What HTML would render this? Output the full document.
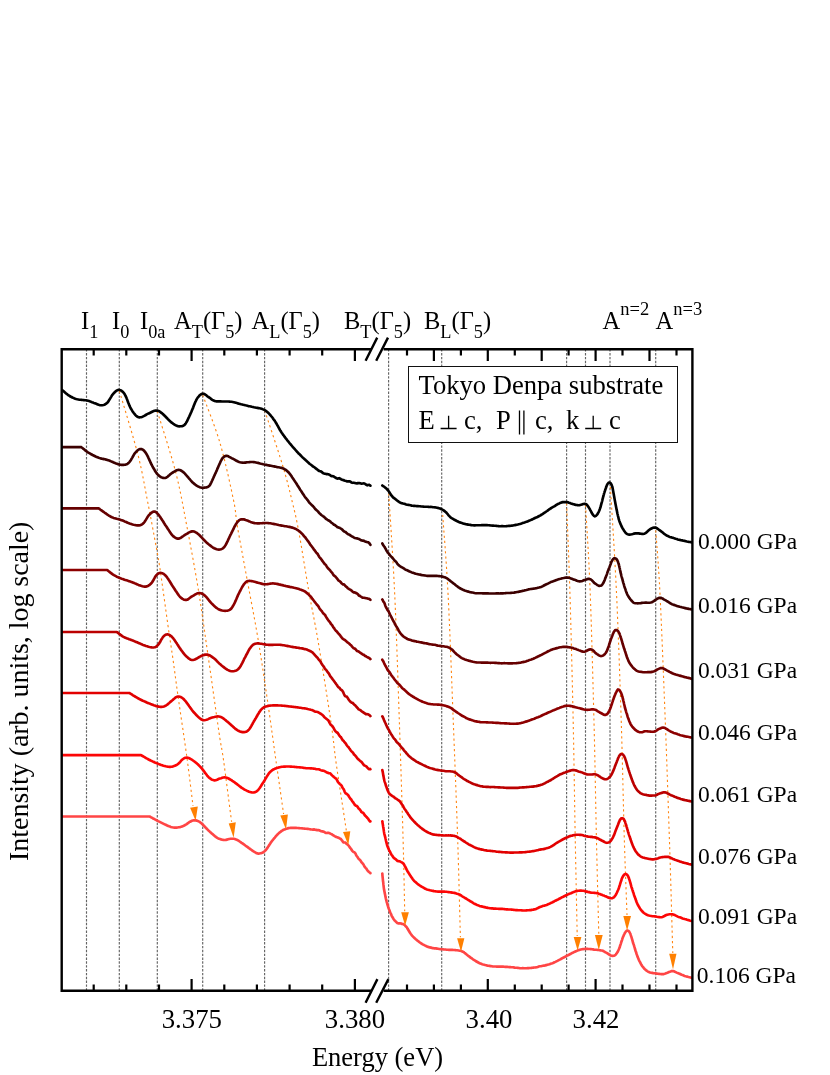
<!DOCTYPE html>
<html><head><meta charset="utf-8"><title>chart</title>
<style>
html,body{margin:0;padding:0;background:#fff;}
body{width:830px;height:1075px;overflow:hidden;}
svg{display:block;will-change:transform;}
text{font-family:"Liberation Serif",serif;fill:#000;}
</style></head><body>
<svg width="830" height="1075" viewBox="0 0 830 1075">
<rect width="830" height="1075" fill="#fff"/>
<g stroke="#646464" stroke-width="1.15" stroke-dasharray="2.4 1.45" fill="none">
<line x1="86.5" y1="349.2" x2="86.5" y2="990.7"/>
<line x1="119.3" y1="349.2" x2="119.3" y2="990.7"/>
<line x1="157.3" y1="349.2" x2="157.3" y2="990.7"/>
<line x1="202.7" y1="349.2" x2="202.7" y2="990.7"/>
<line x1="264.6" y1="349.2" x2="264.6" y2="990.7"/>
<line x1="388.6" y1="349.2" x2="388.6" y2="990.7"/>
<line x1="441.7" y1="349.2" x2="441.7" y2="990.7"/>
<line x1="566.6" y1="349.2" x2="566.6" y2="990.7"/>
<line x1="585.5" y1="349.2" x2="585.5" y2="990.7"/>
<line x1="610" y1="349.2" x2="610" y2="990.7"/>
<line x1="655.7" y1="349.2" x2="655.7" y2="990.7"/>
</g>
<g stroke="#ff8512" stroke-width="1.1" stroke-dasharray="2.2 3.0" fill="none">
<path d="M119.4,391.0C122.5,401.7 133.3,436.5 138.0,455.0C142.7,473.5 144.6,486.5 147.7,502.0C150.8,517.5 154.2,536.2 156.4,548.0C158.6,559.8 158.7,560.2 160.6,573.0C162.5,585.8 165.9,610.8 167.9,625.0C169.9,639.2 171.1,646.2 172.8,658.0C174.5,669.8 175.7,679.6 178.0,696.0C180.3,712.4 184.3,738.3 186.8,756.6C189.3,774.9 192.0,797.8 193.0,806.0"/>
<path d="M157.3,411.4C160.4,421.5 170.7,452.8 175.7,472.2C180.7,491.6 183.3,507.9 187.2,528.0C191.0,548.0 195.3,570.8 198.8,592.5C202.3,614.2 205.0,634.7 208.4,658.0C211.8,681.3 216.5,715.5 219.0,732.5C221.5,749.5 221.4,745.1 223.5,760.0C225.6,774.9 230.2,811.4 231.6,821.7"/>
<path d="M202.7,395.0C205.6,403.0 214.9,425.5 220.0,443.0C225.1,460.5 230.6,486.2 233.5,500.0C236.4,513.8 235.1,512.8 237.3,526.0C239.6,539.2 243.5,560.0 247.0,579.0C250.5,598.0 254.7,618.9 258.2,640.0C261.7,661.1 265.2,685.0 268.2,705.5C271.2,726.0 273.7,744.9 276.3,763.0C278.9,781.1 282.4,805.5 283.6,814.0"/>
<path d="M264.7,410.5C267.7,419.6 277.9,449.8 282.5,465.0C287.1,480.2 289.6,490.7 292.3,502.0C295.1,513.3 296.3,518.0 299.0,532.8C301.7,547.6 305.6,572.7 308.7,590.6C311.8,608.5 314.2,618.3 317.9,640.0C321.6,661.7 327.8,701.0 330.8,721.0C333.8,741.0 333.9,747.2 335.7,760.0C337.5,772.8 339.6,786.3 341.4,798.0C343.2,809.7 345.5,825.0 346.3,830.4"/>
<path d="M388.7,493.7C389.7,509.8 392.7,552.3 394.5,590.0C396.3,627.7 397.9,678.3 399.3,720.0C400.7,761.7 402.2,808.1 403.1,840.0C404.0,871.9 404.4,899.4 404.7,911.3"/>
<path d="M442.7,515.0C443.6,528.0 446.2,558.5 448.0,593.0C449.8,627.5 451.7,680.8 453.3,722.0C454.9,763.2 456.5,804.1 457.7,840.0C458.9,875.9 459.9,921.1 460.4,937.3"/>
<path d="M566.6,503.4C567.1,518.2 568.8,555.6 569.9,592.0C571.0,628.4 572.3,680.3 573.2,722.0C574.1,763.7 574.6,806.3 575.3,842.0C576.0,877.7 576.9,920.3 577.2,936.0"/>
<path d="M585.5,505.3C586.3,519.4 588.7,553.9 590.1,590.0C591.5,626.1 592.9,680.0 594.0,722.0C595.1,764.0 595.7,806.7 596.5,842.0C597.3,877.3 598.4,918.7 598.8,934.0"/>
<path d="M610.4,487.0C611.4,504.7 614.7,553.7 616.5,593.0C618.3,632.3 620.0,681.5 621.3,723.0C622.6,764.5 623.4,810.0 624.4,842.0C625.4,874.0 626.6,902.8 627.0,915.0"/>
<path d="M655.7,530.4C656.4,540.7 658.3,560.1 659.9,592.0C661.5,623.9 663.7,680.3 665.3,722.0C666.9,763.7 668.2,803.5 669.5,842.0C670.8,880.5 672.2,934.5 672.8,953.0"/>
</g>
<g fill="none" stroke-width="2.65" stroke-linejoin="round" stroke-linecap="round">
<path stroke="#000000" d="M62.3,390.2L62.8,390.6L63.4,391.1L64.2,391.8L65.0,392.5L65.9,393.3L66.9,394.0L67.8,394.8L68.7,395.4L69.6,396.0L70.5,396.5L71.5,397.0L72.4,397.5L73.3,397.9L74.2,398.3L75.2,398.7L76.2,399.0L77.3,399.3L78.3,399.5L79.4,399.7L80.5,399.8L81.6,399.9L82.7,400.0L83.8,400.1L84.9,400.2L86.0,400.3L87.0,400.5L88.1,400.8L89.1,401.1L90.1,401.4L91.0,401.8L92.0,402.2L92.9,402.5L93.8,402.9L94.7,403.2L95.7,403.6L96.7,404.0L97.7,404.4L98.6,404.8L99.6,405.1L100.5,405.2L101.4,405.3L102.4,405.2L103.4,405.0L104.4,404.7L105.3,404.3L106.2,403.6L107.2,402.8L107.8,402.2L108.4,401.4L108.9,400.5L109.5,399.6L110.1,398.6L110.7,397.6L111.3,396.6L111.8,395.7L112.4,394.8L113.0,394.1L113.8,393.2L114.7,392.3L115.5,391.5L116.3,390.9L117.1,390.4L118.0,390.0L118.8,389.9L119.6,390.0L120.5,390.2L121.3,390.6L122.1,391.2L122.9,392.0L123.8,392.9L124.6,394.1L125.0,394.8L125.4,395.6L125.8,396.5L126.3,397.4L126.7,398.5L127.1,399.5L127.5,400.6L127.9,401.7L128.3,402.8L128.8,403.9L129.2,404.9L129.6,405.9L130.0,406.8L130.4,407.6L131.0,408.8L131.7,409.9L132.3,410.9L133.0,411.9L133.6,412.8L134.3,413.7L134.9,414.4L135.5,415.1L136.1,415.7L137.1,416.5L138.0,417.0L138.9,417.3L139.9,417.3L141.0,417.2L141.8,417.0L142.7,416.6L143.7,416.1L144.7,415.6L145.7,415.0L146.7,414.4L147.7,413.9L148.7,413.4L149.7,413.0L150.7,412.5L151.7,412.0L152.7,411.5L153.7,411.1L154.6,410.8L155.5,410.6L156.4,410.5L157.5,410.6L158.4,410.9L159.3,411.3L160.2,411.9L161.1,412.6L162.2,413.4L162.9,414.0L163.6,414.7L164.4,415.5L165.2,416.3L166.1,417.2L166.9,418.0L167.7,418.9L168.5,419.7L169.2,420.5L169.9,421.1L170.8,421.9L171.7,422.6L172.6,423.3L173.4,423.9L174.2,424.4L174.9,424.9L175.7,425.3L177.0,425.9L178.2,426.2L179.3,426.4L180.5,426.3L181.4,426.2L182.4,426.1L183.3,425.7L184.3,425.1L185.3,424.0L185.7,423.4L186.2,422.6L186.7,421.8L187.2,420.9L187.6,419.9L188.1,418.9L188.6,417.8L189.1,416.8L189.6,415.7L190.1,414.6L190.6,413.5L191.1,412.4L191.5,411.5L191.9,410.5L192.3,409.5L192.8,408.4L193.2,407.4L193.6,406.3L194.0,405.2L194.4,404.2L194.8,403.2L195.2,402.2L195.7,401.3L196.1,400.4L196.5,399.6L196.9,398.9L197.7,397.6L198.6,396.6L199.4,395.6L200.2,394.9L201.1,394.3L201.9,393.9L202.7,393.7L203.7,393.8L204.6,394.2L205.6,394.8L206.5,395.5L207.4,396.3L208.4,397.0L209.4,397.6L210.3,398.3L211.3,399.1L212.3,399.8L213.2,400.3L214.2,400.8L215.3,401.1L216.2,401.3L217.3,401.3L218.5,401.3L220.0,401.4L220.8,401.4L221.8,401.5L222.8,401.5L223.9,401.5L225.0,401.5L226.1,401.5L227.3,401.5L228.4,401.5L229.5,401.6L230.6,401.7L231.6,401.8L232.7,402.0L233.8,402.2L234.9,402.5L235.9,402.8L236.9,403.1L237.9,403.4L239.0,403.7L240.1,404.0L241.2,404.3L242.2,404.5L243.2,404.8L244.3,405.0L245.4,405.3L246.5,405.5L247.5,405.8L248.6,406.1L249.7,406.3L250.8,406.5L251.8,406.8L252.8,407.0L254.0,407.3L255.1,407.5L256.3,407.7L257.4,407.9L258.5,408.1L259.6,408.3L260.6,408.5L261.5,408.8L262.4,409.1L263.6,409.6L264.6,410.0L265.5,410.6L266.3,411.2L267.2,411.9L268.2,412.8L268.8,413.4L269.5,414.1L270.1,414.8L270.8,415.6L271.5,416.5L272.2,417.3L272.9,418.2L273.5,419.2L274.2,420.1L274.9,421.1L275.4,421.9L275.9,422.7L276.4,423.5L276.9,424.4L277.4,425.3L277.9,426.2L278.4,427.1L278.9,428.0L279.4,429.0L279.9,429.9L280.5,430.8L281.1,431.8L281.7,432.7L282.3,433.5L282.8,434.3L283.4,435.2L284.1,436.0L284.7,436.9L285.3,437.7L286.0,438.6L286.7,439.4L287.3,440.3L288.0,441.1L288.7,442.0L289.3,442.8L290.0,443.6L290.7,444.4L291.3,445.2L292.0,446.0L292.7,446.8L293.4,447.6L294.1,448.4L294.8,449.2L295.5,450.0L296.1,450.7L296.8,451.5L297.5,452.2L298.2,453.0L298.9,453.7L299.6,454.3L300.3,455.0L301.0,455.7L301.8,456.6L302.6,457.4L303.4,458.1L304.2,458.9L305.0,459.5L305.8,460.3L306.6,461.0L307.4,461.7L308.2,462.4L309.0,463.3L309.8,464.0L310.6,464.5L311.5,465.1L312.3,465.9L313.2,466.6L314.1,467.0L315.0,467.7L315.8,468.4L316.7,469.1L317.6,469.8L318.4,470.5L319.3,471.0L320.2,471.2L321.2,471.6L322.2,472.4L323.2,473.2L324.3,473.6L325.3,473.7L326.3,474.1L327.3,474.1L328.2,474.3L329.1,474.6L329.9,475.0L331.1,475.9L332.1,476.2L332.9,476.1L333.8,476.5L334.7,477.2L335.7,477.8L336.5,478.2L337.4,478.6L338.3,478.4L339.2,478.2L340.2,478.7L341.2,479.4L342.2,479.9L343.4,480.0L344.3,480.5L345.2,480.8L346.2,481.1L347.1,481.4L348.1,481.4L349.2,481.3L350.3,481.6L351.4,482.4L352.5,482.8L353.7,482.7L354.9,483.0L355.8,483.3L356.9,483.4L358.0,483.1L359.2,483.0L360.3,483.3L361.6,483.7L362.8,483.5L364.0,483.4L365.1,483.9L366.2,484.8L367.3,485.3L368.2,485.0L369.1,484.8L369.8,485.1L370.4,485.7"/>
<path stroke="#000000" d="M382.3,485.5L382.8,485.9L383.4,486.2L384.2,486.8L385.1,487.5L386.0,488.3L386.9,489.1L387.7,490.0L388.3,490.7L388.9,491.5L389.5,492.4L390.1,493.4L390.8,494.6L391.4,495.4L392.1,496.3L392.8,497.0L393.5,497.8L394.3,498.2L395.0,498.9L395.8,499.4L396.6,500.1L397.4,500.7L398.3,501.4L399.2,502.0L400.2,502.6L401.2,503.1L402.1,503.2L403.0,503.5L404.0,503.7L405.1,504.1L406.1,504.5L407.2,504.8L408.3,504.9L409.4,505.0L410.5,505.3L411.7,505.6L412.8,505.8L413.8,505.9L414.8,505.9L415.8,506.0L416.9,506.1L417.9,506.1L419.0,506.2L420.1,506.3L421.2,506.5L422.2,506.5L423.3,506.6L424.3,506.7L425.3,506.7L426.3,506.7L427.4,506.8L428.6,506.9L429.7,507.0L430.8,506.9L431.9,507.0L433.0,507.2L434.0,507.3L435.1,507.4L436.0,507.5L436.9,507.7L437.8,507.9L439.0,508.2L440.1,508.5L441.0,509.0L441.9,509.4L442.8,509.9L443.7,510.4L444.6,511.1L445.3,511.7L446.0,512.3L446.7,513.0L447.4,513.8L448.1,514.7L448.8,515.6L449.6,516.4L450.4,517.2L451.3,517.9L452.1,518.4L453.0,518.9L453.9,519.5L454.9,520.0L455.9,520.5L456.8,521.0L457.9,521.5L458.9,522.0L459.9,522.4L461.0,522.7L462.0,523.1L463.0,523.4L464.0,523.7L465.0,523.9L466.0,524.2L467.0,524.4L468.1,524.6L469.2,524.8L470.3,524.9L471.4,525.1L472.5,525.2L473.5,525.3L474.5,525.3L475.5,525.3L476.5,525.2L477.5,525.2L478.6,525.2L479.7,525.2L480.7,525.2L481.8,525.1L482.8,525.1L483.9,525.0L485.0,525.1L486.0,525.1L487.0,525.1L488.1,525.2L489.1,525.2L490.2,525.4L491.2,525.5L492.2,525.6L493.3,525.6L494.3,525.7L495.3,525.8L496.4,525.9L497.4,526.0L498.5,526.1L499.5,526.2L500.5,526.2L501.6,526.1L502.6,526.1L503.7,526.2L504.7,526.2L505.7,526.2L506.8,526.1L507.8,526.0L508.8,525.9L509.9,525.9L510.9,525.8L512.0,525.6L513.0,525.5L514.0,525.3L514.9,525.1L515.9,524.9L516.9,524.7L517.8,524.5L518.8,524.2L519.8,524.0L520.7,523.7L521.7,523.4L522.6,523.0L523.6,522.7L524.6,522.4L525.5,522.1L526.5,521.8L527.5,521.4L528.5,521.0L529.5,520.6L530.5,520.1L531.5,519.7L532.5,519.2L533.5,518.8L534.5,518.3L535.5,517.8L536.4,517.4L537.4,517.0L538.3,516.5L539.2,516.0L540.0,515.6L541.0,515.0L542.0,514.4L542.9,513.8L543.8,513.2L544.6,512.6L545.4,512.1L546.3,511.5L547.1,511.0L547.9,510.4L548.7,509.8L549.6,509.1L550.5,508.5L551.4,508.0L552.3,507.4L553.2,506.9L554.2,506.4L555.1,505.8L556.0,505.2L556.9,504.6L557.7,504.1L558.5,503.7L559.3,503.4L560.6,502.8L561.7,502.4L562.8,502.1L563.8,502.0L564.9,502.1L566.0,502.1L566.9,502.1L567.9,502.3L568.9,502.7L570.0,503.0L571.0,503.4L571.9,503.7L572.9,504.1L573.7,504.3L574.8,504.6L575.8,504.9L576.6,505.0L577.5,505.1L578.6,505.2L579.6,505.1L580.8,504.8L582.0,504.4L583.2,504.0L584.3,503.9L585.3,503.9L586.3,504.3L587.1,505.0L587.8,506.0L588.5,507.0L589.2,508.1L589.8,509.1L590.3,510.1L590.9,511.2L591.4,512.3L592.0,513.3L592.5,514.2L593.0,514.8L594.0,515.9L594.9,516.4L595.9,515.9L596.4,515.4L596.9,514.9L597.5,514.2L598.0,513.2L598.6,512.1L599.2,510.8L599.8,509.2L600.0,508.5L600.3,507.7L600.6,506.9L600.8,505.9L601.1,504.8L601.4,503.7L601.7,502.6L602.0,501.6L602.3,500.5L602.5,499.4L602.8,498.3L603.1,497.2L603.4,496.2L603.6,495.2L603.9,494.3L604.1,493.4L604.4,492.6L604.6,491.8L605.1,490.4L605.5,489.1L605.9,488.0L606.2,487.0L606.5,486.2L606.9,485.3L607.2,484.6L607.5,484.0L608.7,482.6L609.8,482.6L610.3,483.0L610.8,483.4L611.3,484.2L611.8,485.3L612.3,487.0L612.5,487.6L612.7,488.4L612.8,489.3L613.0,490.2L613.2,491.3L613.4,492.4L613.6,493.5L613.8,494.6L614.0,495.7L614.2,496.8L614.4,497.9L614.6,499.1L614.8,500.2L615.0,501.3L615.2,502.3L615.4,503.4L615.6,504.4L615.8,505.4L616.0,506.5L616.2,507.5L616.4,508.6L616.6,509.7L616.9,510.8L617.1,511.9L617.3,513.0L617.5,514.0L617.8,515.1L618.0,516.1L618.3,517.1L618.5,518.1L618.7,519.0L619.0,519.8L619.4,521.1L619.8,522.3L620.3,523.4L620.7,524.4L621.2,525.5L621.6,526.5L622.1,527.4L622.5,528.2L623.0,528.9L623.5,529.7L623.9,530.4L624.7,531.6L625.4,532.6L626.1,533.3L626.9,533.9L627.7,534.3L628.7,534.6L629.6,534.6L630.7,534.5L631.8,534.3L632.9,534.0L634.1,533.6L635.3,533.4L636.4,533.3L637.5,533.3L638.7,533.4L639.8,533.6L640.9,533.8L642.0,533.9L643.1,534.0L644.1,533.8L645.0,533.4L645.9,532.8L646.8,532.2L647.6,531.3L648.3,530.6L649.1,530.0L649.9,529.4L651.0,528.7L652.0,528.2L653.0,527.8L654.1,527.6L655.1,527.6L656.0,527.8L656.8,528.2L657.7,528.8L658.6,529.5L659.5,530.2L660.5,530.9L661.2,531.4L662.0,532.0L662.7,532.6L663.5,533.3L664.3,533.9L665.2,534.5L666.1,535.2L667.2,535.8L668.0,536.1L668.8,536.5L669.7,536.9L670.7,537.2L671.6,537.4L672.6,537.7L673.7,538.1L674.7,538.4L675.7,538.7L676.8,539.0L677.8,539.4L678.8,539.7L679.8,539.9L681.0,540.2L682.2,540.4L683.4,540.7L684.6,540.9L685.8,541.2L686.9,541.5L688.0,541.7L689.0,541.9L689.9,542.0L690.7,542.1L691.3,542.3"/>
<path stroke="#3c0000" d="M62.3,447.1L81.2,447.1L81.7,447.5L82.4,448.0L83.1,448.6L84.0,449.3L84.9,450.1L85.9,450.8L86.9,451.6L87.9,452.3L88.9,452.9L89.8,453.4L90.7,454.0L91.7,454.5L92.6,455.0L93.6,455.5L94.6,456.0L95.6,456.5L96.6,456.9L97.6,457.3L98.6,457.7L99.7,458.1L100.7,458.4L101.8,458.7L102.9,458.9L103.9,459.1L105.0,459.3L106.1,459.6L107.1,459.9L108.2,460.2L109.2,460.5L110.2,460.9L111.2,461.4L112.2,461.8L113.2,462.3L114.2,462.7L115.1,463.1L116.1,463.5L117.0,463.8L117.8,464.1L119.1,464.4L120.3,464.7L121.5,464.9L122.6,464.9L123.6,464.9L124.6,464.8L125.7,464.6L126.6,464.3L127.5,463.8L128.4,463.1L129.4,462.1L129.9,461.4L130.5,460.6L131.1,459.7L131.7,458.6L132.3,457.6L132.9,456.5L133.5,455.5L134.0,454.5L134.6,453.6L135.2,452.9L136.1,451.9L137.0,450.9L137.9,450.1L138.8,449.5L139.7,449.1L140.6,449.0L141.5,449.1L142.3,449.4L143.1,449.9L144.0,450.6L144.8,451.6L145.8,452.9L146.2,453.5L146.6,454.3L147.1,455.1L147.5,455.9L148.0,456.9L148.4,457.8L148.9,458.8L149.3,459.9L149.8,460.9L150.3,461.9L150.7,462.9L151.2,463.9L151.6,464.8L152.1,465.6L152.5,466.4L153.1,467.5L153.7,468.5L154.3,469.5L154.8,470.5L155.4,471.4L156.0,472.3L156.5,473.1L157.1,473.8L157.7,474.5L158.3,475.1L159.2,475.9L160.2,476.6L161.1,477.2L162.1,477.6L163.1,477.9L164.1,478.0L165.1,478.0L165.9,477.7L166.8,477.3L167.6,476.7L168.4,475.9L169.3,475.2L170.1,474.4L171.0,473.7L171.8,473.1L172.8,472.5L173.8,471.9L174.8,471.3L175.8,470.7L176.7,470.3L177.7,470.0L178.6,469.9L179.6,470.0L180.5,470.3L181.3,470.7L182.2,471.3L183.2,472.1L184.3,473.1L184.9,473.6L185.5,474.3L186.1,475.0L186.8,475.8L187.5,476.6L188.2,477.4L188.9,478.3L189.7,479.2L190.4,480.0L191.1,480.8L191.7,481.5L192.4,482.2L193.0,482.8L194.0,483.6L194.9,484.4L195.8,485.0L196.6,485.6L197.5,486.1L198.3,486.5L199.1,486.9L199.8,487.2L201.1,487.6L202.3,487.8L203.4,487.8L204.6,487.6L205.6,487.5L206.5,487.4L207.5,487.1L208.4,486.6L209.4,485.7L209.9,485.1L210.3,484.3L210.8,483.5L211.3,482.5L211.7,481.5L212.2,480.5L212.7,479.4L213.2,478.3L213.7,477.1L214.2,476.0L214.6,475.2L215.0,474.2L215.4,473.3L215.9,472.3L216.3,471.3L216.8,470.3L217.2,469.2L217.7,468.2L218.1,467.2L218.5,466.2L218.9,465.3L219.3,464.5L219.7,463.7L220.0,463.0L220.6,461.6L221.1,460.5L221.6,459.7L222.0,458.9L222.4,458.3L222.9,457.7L223.8,456.9L224.7,456.3L225.7,455.9L226.7,455.8L227.5,456.0L228.4,456.3L229.2,456.8L230.3,457.4L231.6,458.1L232.4,458.5L233.2,458.9L234.1,459.4L235.0,459.9L236.0,460.5L237.0,461.0L238.0,461.5L239.1,461.9L240.1,462.2L241.2,462.5L242.2,462.6L243.2,462.7L244.2,462.6L245.3,462.6L246.3,462.4L247.4,462.3L248.5,462.2L249.6,462.1L250.7,462.0L251.7,462.0L252.8,462.0L253.8,462.1L254.9,462.3L255.9,462.5L257.0,462.7L258.0,462.9L259.1,463.2L260.1,463.5L261.2,463.8L262.2,464.0L263.3,464.3L264.3,464.5L265.4,464.7L266.5,464.9L267.6,465.2L268.7,465.4L269.8,465.6L270.9,465.8L272.0,466.0L273.1,466.2L274.1,466.4L275.0,466.6L275.9,466.8L277.3,467.1L278.6,467.3L279.7,467.5L280.7,467.7L281.7,467.9L282.7,468.3L283.7,468.7L284.6,469.2L285.6,469.7L286.5,470.4L287.4,471.2L288.4,472.2L289.0,472.8L289.5,473.5L290.0,474.2L290.6,474.9L291.2,475.7L291.7,476.6L292.3,477.5L293.0,478.5L293.7,479.5L294.4,480.6L295.2,481.8L295.7,482.5L296.2,483.2L296.7,484.0L297.2,484.9L297.7,485.8L298.3,486.6L298.9,487.5L299.5,488.4L300.0,489.4L300.6,490.3L301.3,491.2L301.9,492.2L302.5,493.3L303.1,494.1L303.7,494.9L304.3,495.9L304.9,496.8L305.5,497.6L306.1,498.2L306.7,499.0L307.4,499.9L308.1,500.8L308.7,501.8L309.4,502.7L310.1,503.4L310.8,504.1L311.5,504.8L312.2,505.4L312.8,506.1L313.5,506.7L314.2,507.6L314.9,508.6L315.6,509.4L316.3,509.9L316.9,510.4L317.6,511.1L318.3,511.8L319.1,512.8L319.8,513.6L320.6,514.3L321.3,515.0L322.1,515.5L322.8,516.1L323.6,516.5L324.4,517.2L325.1,517.9L325.9,518.8L326.7,519.2L327.5,519.8L328.3,520.3L329.1,520.7L329.9,521.1L330.7,522.0L331.5,522.7L332.3,523.3L333.2,524.0L334.0,524.8L334.9,525.1L335.8,525.8L336.7,526.5L337.5,527.2L338.4,527.4L339.3,527.7L340.1,528.2L341.0,528.7L341.8,529.1L342.6,530.0L343.4,530.9L344.4,531.6L345.3,531.9L346.2,532.6L347.1,533.5L348.1,534.2L348.9,534.5L349.8,534.9L350.7,535.6L351.6,536.2L352.4,536.6L353.2,537.0L354.1,537.6L354.9,538.0L356.0,538.2L357.0,538.4L358.1,538.7L359.1,539.1L360.1,539.7L361.1,540.3L362.0,540.6L362.9,540.6L363.8,540.8L364.6,541.2L365.9,541.7L367.0,542.1L368.1,542.2L369.0,542.8L369.8,543.9L370.4,544.8"/>
<path stroke="#3c0000" d="M382.3,543.5L382.6,544.1L383.0,544.7L383.5,545.5L384.0,546.2L384.6,547.0L385.2,548.1L385.8,549.2L386.4,550.4L387.1,551.4L387.7,552.5L388.3,553.1L389.0,553.9L389.6,554.7L390.3,555.6L391.0,556.4L391.7,557.1L392.4,557.9L393.1,558.7L393.8,559.5L394.5,560.3L395.2,561.1L395.9,561.7L396.6,562.5L397.2,563.4L397.9,564.4L398.6,565.1L399.4,565.7L400.2,566.3L401.2,567.0L402.0,567.4L402.8,567.8L403.7,568.3L404.6,569.1L405.6,569.7L406.6,570.1L407.6,570.5L408.6,571.0L409.7,571.6L410.7,571.9L411.8,572.4L412.8,572.7L413.8,573.1L414.8,573.4L415.8,573.8L416.9,574.0L417.9,574.2L419.0,574.5L420.1,574.6L421.2,574.9L422.2,575.1L423.3,575.2L424.3,575.4L425.3,575.5L426.3,575.7L427.4,575.9L428.6,575.9L429.7,575.9L430.8,575.9L431.9,575.9L432.9,575.9L434.0,575.9L435.0,575.9L436.0,575.9L436.9,575.9L437.8,576.0L439.1,576.1L440.3,576.3L441.4,576.4L442.5,576.6L443.5,576.9L444.5,577.2L445.5,577.6L446.4,578.0L447.2,578.5L448.0,579.1L448.8,579.7L449.7,580.4L450.5,581.1L451.4,581.8L452.3,582.5L453.1,583.1L453.9,583.7L454.7,584.3L455.5,585.0L456.4,585.7L457.2,586.3L458.1,587.1L459.1,587.7L460.0,588.3L461.0,588.8L461.9,589.2L462.7,589.6L463.6,590.1L464.6,590.5L465.5,590.8L466.4,591.1L467.4,591.4L468.4,591.6L469.4,591.9L470.4,592.2L471.5,592.4L472.5,592.5L473.5,592.7L474.5,593.0L475.5,593.2L476.5,593.3L477.5,593.2L478.6,593.2L479.7,593.2L480.7,593.2L481.8,593.3L482.8,593.4L483.9,593.4L485.0,593.4L486.0,593.4L487.0,593.4L488.1,593.4L489.1,593.5L490.1,593.5L491.1,593.5L492.1,593.5L493.1,593.5L494.2,593.5L495.2,593.5L496.2,593.4L497.3,593.4L498.4,593.4L499.5,593.5L500.5,593.4L501.5,593.3L502.5,593.3L503.5,593.3L504.6,593.2L505.7,593.1L506.7,593.0L507.8,593.0L508.9,593.0L509.9,593.0L511.0,592.9L512.0,592.8L513.0,592.7L514.0,592.6L515.0,592.4L516.1,592.2L517.2,592.0L518.3,591.9L519.3,591.6L520.4,591.4L521.4,591.2L522.5,590.9L523.5,590.7L524.5,590.4L525.5,590.2L526.5,590.0L527.4,589.7L528.4,589.4L529.5,589.2L530.6,589.0L531.7,588.9L532.8,588.7L533.8,588.6L534.8,588.5L535.9,588.2L536.9,588.1L537.9,587.8L539.0,587.5L540.0,587.2L541.0,586.9L542.0,586.5L542.9,586.1L543.9,585.5L544.9,585.0L545.9,584.5L546.9,584.1L547.9,583.6L548.8,583.1L549.8,582.6L550.7,582.1L551.6,581.8L552.7,581.4L553.7,581.1L554.7,580.7L555.7,580.3L556.7,579.9L557.7,579.6L558.6,579.3L559.5,579.0L560.4,578.8L561.2,578.6L562.5,578.2L563.7,578.0L564.8,577.7L565.8,577.6L566.9,577.5L568.0,577.6L569.0,577.7L569.9,578.1L570.9,578.4L571.9,578.8L572.9,579.2L573.8,579.6L574.7,579.8L575.9,580.2L576.9,580.7L578.0,581.1L579.2,581.3L580.5,581.3L581.4,581.2L582.3,580.9L583.3,580.5L584.3,580.1L585.4,579.8L586.4,579.4L587.4,579.1L588.3,578.9L589.2,578.9L590.2,579.2L591.1,579.7L591.9,580.3L592.7,581.2L593.4,582.0L594.2,582.8L594.9,583.3L595.9,584.0L597.0,584.8L598.0,585.4L598.9,585.8L599.8,585.8L600.6,585.7L601.4,585.4L602.1,584.8L602.8,583.8L603.6,582.5L603.9,581.8L604.3,580.9L604.7,580.0L605.0,579.1L605.4,578.1L605.8,577.0L606.2,576.0L606.6,575.0L607.0,573.8L607.3,572.8L607.7,571.8L608.1,570.8L608.4,569.9L608.8,568.8L609.3,567.7L609.7,566.6L610.1,565.5L610.5,564.4L610.9,563.4L611.2,562.4L611.6,561.5L612.0,560.8L612.3,560.2L613.3,558.8L614.3,558.2L615.2,558.3L615.9,558.7L616.6,559.2L617.3,560.3L618.1,562.2L618.3,562.9L618.6,563.6L618.8,564.4L619.0,565.3L619.3,566.3L619.5,567.5L619.8,568.6L620.0,569.8L620.3,571.0L620.5,572.2L620.8,573.3L621.1,574.4L621.3,575.5L621.6,576.6L621.9,577.6L622.2,578.6L622.5,579.6L622.7,580.7L623.0,581.7L623.3,582.8L623.6,583.7L623.9,584.7L624.2,585.8L624.5,586.8L624.8,587.8L625.2,588.7L625.5,589.6L625.8,590.6L626.1,591.5L626.4,592.3L626.7,593.1L627.2,594.3L627.8,595.4L628.4,596.4L628.9,597.3L629.5,598.1L630.0,598.8L630.6,599.5L631.1,600.2L631.6,600.7L632.5,601.7L633.3,602.5L634.1,603.0L635.4,603.2L636.3,603.2L637.3,603.3L638.3,603.3L639.5,603.2L640.7,603.1L641.9,602.9L643.0,602.8L644.1,602.7L645.3,602.6L646.4,602.6L647.5,602.7L648.6,602.7L649.6,602.7L650.7,602.5L651.8,602.2L652.8,601.7L653.8,601.1L654.8,600.4L655.8,599.7L656.8,599.0L657.7,598.5L658.6,598.1L659.5,597.8L660.6,597.8L661.5,598.1L662.4,598.5L663.3,599.0L664.2,599.6L665.3,600.2L666.2,600.7L667.0,601.3L668.0,601.7L668.9,602.3L669.9,603.0L670.9,603.6L671.9,604.2L673.0,604.6L673.9,604.9L674.8,605.1L675.8,605.6L676.8,605.9L677.8,606.2L678.8,606.5L679.8,606.8L680.8,607.0L681.8,607.3L682.7,607.5L683.9,607.8L685.1,608.1L686.4,608.4L687.6,608.6L688.8,608.9L689.8,609.0L690.6,609.3L691.3,609.4"/>
<path stroke="#660000" d="M62.3,508.3L98.6,508.3L99.1,508.7L99.8,509.2L100.6,509.8L101.5,510.4L102.5,511.1L103.5,511.8L104.4,512.5L105.3,513.1L106.2,513.7L107.1,514.4L108.0,515.0L108.9,515.6L109.9,516.2L110.9,516.8L112.0,517.3L112.8,517.6L113.7,517.9L114.7,518.2L115.7,518.5L116.7,518.8L117.7,519.0L118.7,519.3L119.7,519.6L120.7,519.9L121.7,520.2L122.7,520.6L123.7,521.0L124.6,521.4L125.6,521.8L126.6,522.2L127.6,522.7L128.6,523.1L129.5,523.5L130.4,523.8L131.3,524.1L132.5,524.5L133.7,524.8L134.9,525.0L136.0,525.3L137.1,525.4L138.1,525.4L139.0,525.4L140.2,525.2L141.2,524.8L142.1,524.3L143.0,523.6L143.9,522.7L144.5,522.0L145.1,521.1L145.7,520.1L146.3,519.1L146.9,518.1L147.5,517.1L148.1,516.2L148.7,515.4L149.6,514.5L150.4,513.6L151.3,512.9L152.2,512.2L153.1,511.8L153.9,511.6L154.8,511.6L155.6,511.9L156.3,512.4L157.2,513.3L158.3,514.5L158.8,515.1L159.3,515.8L159.9,516.6L160.5,517.5L161.1,518.4L161.7,519.3L162.3,520.3L163.0,521.3L163.6,522.3L164.2,523.3L164.8,524.2L165.4,525.2L166.0,526.0L166.7,527.0L167.3,528.0L167.9,529.0L168.6,529.9L169.2,530.9L169.8,531.9L170.4,532.7L171.0,533.6L171.6,534.4L172.2,535.1L172.8,535.7L173.8,536.7L174.8,537.4L175.7,538.0L176.6,538.4L177.6,538.6L178.6,538.6L179.5,538.4L180.4,538.0L181.4,537.4L182.4,536.7L183.4,536.0L184.3,535.3L185.3,534.7L186.3,534.1L187.2,533.6L188.2,532.9L189.2,532.4L190.2,531.9L191.1,531.6L192.0,531.4L193.0,531.4L193.9,531.5L194.8,531.8L195.7,532.3L196.7,532.9L197.8,533.7L198.4,534.2L199.1,534.8L199.8,535.5L200.5,536.2L201.3,537.0L202.0,537.8L202.8,538.7L203.6,539.5L204.3,540.3L205.1,541.0L205.8,541.8L206.5,542.4L207.4,543.2L208.3,544.0L209.2,544.7L210.1,545.4L211.0,546.1L211.8,546.7L212.6,547.3L213.4,547.8L214.2,548.2L215.5,548.8L216.7,549.3L217.8,549.5L218.9,549.6L220.0,549.5L221.0,549.3L221.9,548.9L222.9,548.4L223.8,547.5L224.8,546.3L225.2,545.6L225.7,544.9L226.2,544.0L226.6,543.1L227.1,542.1L227.6,541.1L228.1,540.0L228.6,538.9L229.1,537.9L229.6,536.8L230.1,535.7L230.6,534.7L231.1,533.8L231.5,532.9L232.0,531.9L232.5,530.9L233.0,529.9L233.5,528.9L233.9,527.9L234.4,526.9L234.9,526.0L235.4,525.1L235.9,524.3L236.4,523.5L236.8,522.8L237.3,522.2L238.3,521.1L239.1,520.3L239.9,519.7L240.8,519.4L241.8,519.3L243.1,519.3L243.9,519.4L244.7,519.6L245.5,519.9L246.5,520.2L247.4,520.6L248.4,521.0L249.4,521.4L250.5,521.9L251.5,522.3L252.6,522.6L253.6,522.9L254.7,523.1L255.7,523.2L256.7,523.3L257.7,523.3L258.7,523.3L259.8,523.3L260.8,523.2L261.9,523.2L262.9,523.1L264.0,523.0L265.0,523.0L266.1,523.0L267.2,523.0L268.2,523.1L269.2,523.2L270.3,523.3L271.3,523.5L272.4,523.7L273.4,523.9L274.5,524.1L275.5,524.3L276.6,524.5L277.6,524.7L278.7,525.0L279.7,525.2L280.7,525.4L281.7,525.6L282.8,525.8L283.9,526.0L285.0,526.2L286.1,526.3L287.2,526.5L288.2,526.7L289.3,526.9L290.4,527.1L291.4,527.4L292.3,527.6L293.3,527.9L294.2,528.3L295.2,528.7L296.1,529.2L297.0,529.7L297.8,530.1L298.6,530.7L299.4,531.3L300.2,532.0L301.0,532.7L301.9,533.6L302.9,534.7L303.4,535.3L304.0,536.1L304.6,536.7L305.2,537.3L305.7,538.1L306.4,539.0L307.0,539.8L307.6,540.6L308.2,541.3L308.8,542.2L309.5,543.3L310.1,544.3L310.7,545.2L311.4,546.0L312.0,546.7L312.6,547.6L313.3,548.6L313.9,549.5L314.5,550.1L315.1,550.9L315.7,551.9L316.3,552.6L316.9,553.2L317.5,553.8L318.1,554.8L318.7,555.9L319.3,557.0L319.9,557.7L320.6,558.4L321.2,559.1L321.8,560.1L322.4,560.9L323.0,561.7L323.6,562.5L324.2,563.4L324.8,564.1L325.4,564.5L326.0,565.3L326.7,566.4L327.4,567.4L328.0,568.3L328.7,568.8L329.4,569.6L330.1,570.4L330.8,571.3L331.5,572.1L332.1,572.7L332.8,573.9L333.5,575.0L334.2,575.7L334.9,576.1L335.6,576.8L336.2,577.5L336.9,578.4L337.6,579.3L338.4,580.4L339.1,580.8L339.9,581.4L340.7,582.1L341.5,583.2L342.2,583.8L343.0,584.4L343.8,584.3L344.6,585.0L345.3,585.8L346.1,586.7L346.9,587.2L347.7,588.2L348.4,588.6L349.2,589.1L350.1,589.6L351.0,590.2L351.9,590.9L352.8,591.9L353.7,592.4L354.6,592.3L355.5,592.9L356.4,593.1L357.3,593.8L358.2,594.6L359.0,595.7L359.9,595.9L360.7,596.5L361.8,597.2L362.9,597.7L364.0,597.7L365.2,598.0L366.3,598.3L367.3,598.4L368.3,598.7L369.1,598.8L369.8,599.3L370.4,599.9"/>
<path stroke="#660000" d="M382.3,599.5L382.6,599.9L382.9,600.6L383.3,601.5L383.8,602.1L384.3,602.8L384.8,604.1L385.3,605.7L385.9,607.0L386.5,608.1L387.1,609.2L387.7,610.2L388.1,610.8L388.6,611.3L389.0,612.3L389.5,613.4L390.0,614.6L390.5,615.4L391.0,616.4L391.5,617.3L392.0,618.4L392.5,619.3L393.0,620.4L393.5,621.2L394.0,622.0L394.5,622.9L394.9,624.0L395.4,624.9L396.0,625.9L396.6,626.8L397.1,627.6L397.7,628.7L398.2,629.7L398.7,630.7L399.3,631.6L399.8,632.4L400.4,633.2L401.0,634.0L401.6,634.6L402.2,635.3L403.0,636.1L403.9,636.8L404.8,637.3L405.6,637.8L406.5,638.5L407.5,639.0L408.5,639.4L409.6,639.7L410.8,640.1L411.7,640.4L412.6,640.7L413.6,640.9L414.6,641.1L415.6,641.3L416.7,641.6L417.8,641.8L418.9,642.0L420.0,642.2L421.1,642.4L422.2,642.6L423.2,642.9L424.3,643.1L425.3,643.3L426.4,643.4L427.5,643.6L428.5,643.9L429.6,644.2L430.6,644.3L431.7,644.5L432.7,644.6L433.8,644.7L434.8,644.8L435.8,645.1L436.8,645.4L437.8,645.6L438.9,645.7L440.1,645.9L441.2,646.1L442.3,646.2L443.4,646.3L444.5,646.5L445.5,646.7L446.6,646.8L447.6,647.1L448.5,647.4L449.4,647.8L450.3,648.4L451.2,649.0L452.0,649.6L452.8,650.3L453.5,651.1L454.2,651.9L454.9,652.6L455.6,653.3L456.3,654.0L457.1,654.6L457.9,655.2L458.7,655.8L459.5,656.4L460.3,657.1L461.1,657.6L461.9,658.1L462.8,658.5L463.8,658.9L464.8,659.4L465.7,659.7L466.6,660.0L467.6,660.3L468.7,660.7L469.7,660.9L470.8,661.2L471.9,661.5L473.0,661.8L474.1,662.0L475.3,662.2L476.4,662.4L477.4,662.5L478.4,662.5L479.3,662.5L480.4,662.5L481.4,662.6L482.4,662.5L483.4,662.6L484.5,662.6L485.5,662.6L486.6,662.6L487.7,662.6L488.8,662.7L489.9,662.8L490.9,662.8L491.9,662.7L492.9,662.7L493.9,662.8L495.0,662.9L496.0,662.9L497.1,663.0L498.1,663.1L499.2,663.1L500.2,663.2L501.3,663.3L502.3,663.3L503.3,663.2L504.3,663.1L505.3,663.2L506.4,663.2L507.5,663.3L508.6,663.3L509.7,663.4L510.7,663.4L511.8,663.3L512.8,663.3L513.8,663.2L514.8,663.2L515.9,663.2L516.8,663.1L517.8,663.0L518.8,662.9L519.8,662.8L520.9,662.6L521.9,662.3L522.9,662.1L523.9,661.9L524.8,661.7L525.8,661.4L526.8,661.0L527.7,660.7L528.6,660.4L529.5,660.0L530.4,659.8L531.4,659.5L532.4,659.1L533.4,658.7L534.3,658.3L535.2,657.9L536.1,657.4L537.0,657.0L538.0,656.4L539.0,656.0L540.0,655.5L540.9,655.1L541.8,654.7L542.8,654.1L543.7,653.6L544.7,653.1L545.7,652.6L546.7,652.1L547.7,651.5L548.7,651.0L549.6,650.6L550.6,650.1L551.6,649.7L552.7,649.3L553.7,649.0L554.8,648.7L555.9,648.4L557.0,648.1L558.1,647.8L559.1,647.5L560.2,647.3L561.2,647.2L562.2,647.0L563.1,646.9L564.3,646.8L565.5,646.8L566.7,646.9L567.7,647.1L568.8,647.3L569.8,647.4L570.8,647.5L571.8,647.7L572.9,648.0L573.9,648.4L574.9,648.7L575.9,649.0L576.8,649.4L577.7,649.7L578.6,650.1L579.8,650.6L580.9,651.0L582.0,651.4L583.1,651.6L584.3,651.7L585.2,651.5L586.2,651.1L587.2,650.5L588.2,650.0L589.2,649.6L590.2,649.4L591.1,649.4L592.0,649.7L592.9,650.3L593.7,651.0L594.5,651.9L595.3,652.7L596.1,653.4L596.9,654.0L597.9,654.7L598.9,655.4L599.8,655.8L600.8,656.1L601.7,656.0L602.5,655.8L603.3,655.4L604.1,654.8L604.9,654.0L605.7,653.0L606.5,651.7L606.8,651.0L607.2,650.2L607.6,649.3L607.9,648.3L608.3,647.2L608.7,646.2L609.0,645.1L609.4,644.0L609.7,642.9L610.1,641.8L610.4,640.8L610.7,639.8L611.0,638.9L611.3,638.2L611.8,636.9L612.3,635.7L612.7,634.6L613.1,633.6L613.5,632.7L613.8,632.0L614.2,631.3L615.4,630.0L616.5,630.0L617.1,630.3L617.8,630.8L618.5,631.8L619.4,633.4L619.7,634.0L619.9,634.8L620.2,635.7L620.5,636.5L620.8,637.5L621.1,638.4L621.4,639.4L621.7,640.4L622.0,641.4L622.3,642.5L622.6,643.7L623.0,644.8L623.3,645.8L623.6,646.8L623.9,647.8L624.2,648.8L624.6,649.8L624.9,650.9L625.2,651.8L625.6,652.9L625.9,653.9L626.2,655.0L626.6,656.0L626.9,657.0L627.2,657.9L627.6,658.8L628.0,659.7L628.3,660.6L628.7,661.4L629.3,662.5L629.9,663.5L630.6,664.5L631.2,665.4L631.9,666.2L632.5,667.0L633.2,667.8L633.9,668.4L634.5,668.9L635.4,669.8L636.2,670.4L637.0,670.9L637.9,671.3L638.9,671.6L640.2,671.8L641.1,671.9L642.0,672.0L643.1,672.2L644.2,672.3L645.4,672.2L646.6,672.2L647.8,672.1L648.9,672.1L650.0,672.1L650.9,672.1L651.8,671.9L653.1,671.6L654.2,671.2L655.2,670.8L656.0,670.3L656.8,669.8L657.6,669.4L658.7,668.9L659.7,668.4L660.7,668.1L661.8,668.0L662.8,668.3L663.8,668.7L664.8,669.3L666.0,669.9L667.2,670.6L668.0,671.0L668.8,671.4L669.5,671.9L670.4,672.3L671.3,672.7L672.3,673.2L673.5,673.7L674.9,674.2L675.7,674.5L676.5,674.7L677.5,675.0L678.5,675.3L679.6,675.6L680.7,675.9L681.9,676.2L683.0,676.5L684.2,676.9L685.3,677.2L686.4,677.4L687.4,677.7L688.4,677.9L689.3,678.1L690.1,678.3L690.7,678.6L691.3,678.8"/>
<path stroke="#8c0000" d="M62.3,570.0L107.2,570.0L107.7,570.4L108.4,571.0L109.2,571.6L110.1,572.4L111.1,573.1L112.1,573.9L113.1,574.6L114.0,575.2L114.9,575.7L115.8,576.2L116.7,576.7L117.7,577.1L118.6,577.5L119.6,577.9L120.6,578.3L121.7,578.7L122.6,579.0L123.5,579.3L124.4,579.7L125.4,580.0L126.4,580.3L127.4,580.6L128.4,580.9L129.3,581.2L130.3,581.6L131.3,581.9L132.3,582.3L133.3,582.7L134.3,583.1L135.4,583.6L136.4,584.0L137.4,584.4L138.4,584.9L139.3,585.2L140.2,585.5L141.0,585.8L142.4,586.2L143.6,586.5L144.7,586.6L145.7,586.6L146.7,586.4L147.6,586.1L148.4,585.7L149.2,585.2L150.0,584.5L150.8,583.8L151.6,582.9L152.1,582.2L152.7,581.4L153.2,580.4L153.8,579.5L154.3,578.5L154.8,577.5L155.4,576.6L155.9,575.8L156.4,575.2L157.5,574.1L158.5,573.4L159.5,573.0L160.6,572.9L161.4,573.0L162.2,573.2L163.1,573.6L164.0,574.2L165.0,575.0L166.0,576.1L166.5,576.7L167.1,577.4L167.6,578.2L168.2,579.1L168.8,580.0L169.5,581.0L170.1,582.0L170.7,583.0L171.3,584.0L171.9,585.0L172.5,585.9L173.1,586.9L173.7,587.7L174.4,588.7L175.0,589.7L175.6,590.7L176.3,591.6L176.9,592.6L177.5,593.5L178.1,594.4L178.7,595.2L179.3,596.0L179.9,596.7L180.5,597.3L181.5,598.2L182.5,598.9L183.5,599.4L184.4,599.7L185.4,599.9L186.3,599.9L187.2,599.7L188.2,599.2L189.1,598.5L190.0,597.8L191.0,597.0L192.0,596.4L192.9,595.9L193.9,595.3L194.9,594.7L195.9,594.1L196.9,593.6L197.9,593.3L198.8,593.1L199.8,593.1L200.7,593.2L201.6,593.5L202.6,594.0L203.5,594.6L204.6,595.4L205.2,596.0L205.9,596.6L206.6,597.4L207.3,598.2L208.0,599.1L208.7,600.0L209.4,600.9L210.1,601.8L210.9,602.6L211.6,603.4L212.3,604.1L213.2,604.9L214.0,605.7L214.8,606.4L215.7,607.2L216.5,607.9L217.4,608.5L218.2,609.0L219.1,609.5L220.0,609.9L221.1,610.2L222.2,610.5L223.4,610.7L224.5,610.8L225.7,610.8L226.8,610.7L227.8,610.6L228.7,610.3L229.6,609.9L230.3,609.4L231.0,608.9L231.6,608.1L232.2,607.3L232.8,606.3L233.5,605.1L233.9,604.4L234.3,603.5L234.8,602.6L235.2,601.7L235.7,600.7L236.1,599.6L236.6,598.5L237.0,597.5L237.5,596.4L237.9,595.4L238.4,594.3L238.9,593.4L239.3,592.5L239.8,591.5L240.4,590.5L240.9,589.5L241.4,588.5L241.9,587.5L242.5,586.6L243.0,585.7L243.5,584.9L244.1,584.1L244.6,583.5L245.1,582.9L246.0,582.1L246.7,581.5L247.5,581.1L248.3,581.0L249.4,580.9L250.8,581.0L251.6,581.1L252.5,581.3L253.5,581.5L254.5,581.7L255.6,582.0L256.7,582.4L257.9,582.7L259.0,583.0L260.2,583.3L261.3,583.6L262.4,583.9L263.4,584.1L264.3,584.2L265.5,584.3L266.6,584.2L267.7,584.1L268.7,584.0L269.6,583.8L270.6,583.6L271.7,583.5L272.8,583.4L274.0,583.5L274.9,583.6L275.9,583.7L276.9,583.9L277.9,584.1L279.0,584.4L280.1,584.6L281.2,584.9L282.3,585.1L283.4,585.4L284.4,585.7L285.5,585.9L286.5,586.2L287.5,586.4L288.6,586.6L289.8,586.9L290.9,587.1L291.9,587.3L293.0,587.5L294.1,587.8L295.1,588.0L296.1,588.2L297.1,588.5L298.1,588.8L299.0,589.1L300.1,589.5L301.1,589.8L302.1,590.2L303.1,590.6L304.0,591.0L304.9,591.4L305.8,592.1L306.7,592.9L307.7,593.7L308.4,594.2L309.0,595.0L309.6,595.6L310.3,596.2L310.9,596.8L311.5,597.6L312.2,598.6L312.8,599.4L313.5,600.3L314.2,601.2L314.9,602.1L315.6,603.0L316.4,604.0L316.9,604.7L317.5,605.3L318.1,605.9L318.7,606.8L319.2,607.8L319.9,609.0L320.5,609.8L321.1,610.4L321.7,610.9L322.3,611.9L323.0,612.9L323.6,613.7L324.2,614.2L324.9,614.8L325.5,615.8L326.1,616.9L326.8,618.0L327.4,618.9L328.0,619.8L328.6,620.6L329.2,621.3L329.8,622.0L330.4,622.9L331.0,624.0L331.6,624.5L332.2,625.4L332.8,626.2L333.4,627.5L334.1,628.1L334.7,629.2L335.3,630.0L335.9,630.8L336.5,631.2L337.1,631.9L337.7,632.7L338.3,633.4L338.9,634.0L339.5,634.6L340.3,635.6L341.0,636.7L341.8,637.7L342.6,638.6L343.4,639.1L344.1,639.6L344.9,640.0L345.7,640.7L346.5,641.4L347.2,642.1L348.0,642.7L348.8,643.3L349.6,644.0L350.3,644.7L351.1,645.3L351.9,646.4L352.8,647.4L353.7,648.3L354.5,648.5L355.4,649.0L356.3,650.1L357.1,651.0L358.0,651.2L358.8,651.6L359.7,652.3L360.5,652.8L361.2,653.3L362.0,653.8L362.7,654.4L363.8,654.8L364.8,655.7L365.8,656.2L366.8,656.8L367.7,657.3L368.5,657.7L369.3,658.2L369.9,658.5L370.4,659.1"/>
<path stroke="#8c0000" d="M382.3,659.7L382.6,660.2L382.9,660.6L383.3,661.4L383.7,662.2L384.2,663.3L384.7,664.3L385.2,665.4L385.8,666.3L386.4,667.5L387.0,668.7L387.7,670.1L388.2,670.8L388.8,671.3L389.3,671.9L390.0,672.8L390.6,674.0L391.2,675.0L391.9,675.9L392.6,676.8L393.3,677.6L393.9,678.5L394.6,679.5L395.3,680.4L396.0,681.1L396.6,682.0L397.3,682.9L398.0,683.5L398.8,684.2L399.5,684.8L400.2,685.6L400.9,686.5L401.7,687.5L402.4,688.2L403.1,688.8L403.9,689.3L404.6,690.0L405.4,690.7L406.2,691.6L407.0,692.3L407.8,693.1L408.7,693.8L409.5,694.4L410.4,695.0L411.3,695.6L412.2,696.2L413.1,696.8L414.1,697.3L415.0,697.9L415.9,698.4L416.8,698.9L417.7,699.4L418.6,699.9L419.6,700.4L420.5,700.8L421.5,701.2L422.5,701.7L423.5,702.1L424.5,702.4L425.4,702.8L426.4,703.1L427.4,703.5L428.3,703.7L429.2,703.9L430.1,704.0L431.3,704.2L432.4,704.3L433.5,704.5L434.5,704.5L435.6,704.5L436.6,704.5L437.7,704.6L438.7,704.6L439.8,704.8L440.9,704.9L442.0,705.1L443.1,705.3L444.2,705.5L445.3,705.8L446.3,706.1L447.4,706.4L448.4,706.8L449.4,707.2L450.3,707.6L451.2,708.1L452.0,708.7L452.8,709.4L453.7,710.1L454.5,710.7L455.3,711.2L456.2,711.8L457.1,712.4L457.9,713.0L458.7,713.5L459.5,714.0L460.4,714.6L461.2,715.2L462.1,715.8L463.0,716.2L463.9,716.7L464.8,717.2L465.7,717.7L466.7,718.2L467.6,718.6L468.5,719.1L469.4,719.4L470.3,719.6L471.3,719.9L472.3,720.3L473.2,720.6L474.2,720.9L475.2,721.2L476.2,721.4L477.3,721.6L478.3,721.8L479.3,721.9L480.3,722.1L481.3,722.2L482.3,722.2L483.4,722.2L484.4,722.2L485.5,722.3L486.5,722.4L487.6,722.4L488.6,722.5L489.7,722.5L490.8,722.5L491.8,722.5L492.8,722.6L493.9,722.7L494.9,722.8L496.0,722.9L497.0,722.9L498.0,722.9L499.1,723.0L500.1,723.1L501.1,723.2L502.2,723.2L503.2,723.2L504.3,723.3L505.3,723.3L506.3,723.4L507.4,723.5L508.5,723.5L509.5,723.6L510.6,723.7L511.6,723.7L512.7,723.7L513.7,723.8L514.8,723.7L515.8,723.7L516.8,723.6L517.8,723.6L518.8,723.5L519.8,723.3L520.9,723.1L521.9,722.8L522.9,722.6L523.9,722.3L524.8,721.9L525.8,721.6L526.8,721.4L527.7,721.1L528.6,720.7L529.5,720.4L530.4,720.1L531.4,719.7L532.4,719.3L533.4,719.0L534.3,718.7L535.2,718.3L536.1,717.9L537.0,717.5L538.0,717.2L539.0,716.8L540.0,716.4L540.9,716.0L541.8,715.5L542.8,715.0L543.8,714.6L544.8,714.1L545.8,713.7L546.8,713.2L547.8,712.7L548.8,712.3L549.8,711.9L550.7,711.5L551.6,711.1L552.6,710.6L553.7,710.2L554.7,709.8L555.7,709.4L556.6,709.0L557.6,708.6L558.5,708.2L559.4,707.9L560.3,707.5L561.2,707.2L562.4,706.8L563.5,706.5L564.5,706.1L565.6,705.9L566.6,705.8L567.7,705.7L568.9,705.7L569.9,705.9L571.0,706.1L572.1,706.3L573.2,706.6L574.3,706.9L575.4,707.2L576.5,707.5L577.6,707.8L578.6,708.0L579.8,708.3L580.9,708.6L582.0,708.9L583.1,709.2L584.2,709.5L585.2,709.7L586.3,709.8L587.4,709.9L588.6,709.8L589.7,709.7L590.8,709.5L591.9,709.4L593.0,709.4L594.0,709.5L595.1,709.7L596.1,710.1L597.0,710.7L597.9,711.4L598.9,711.9L599.8,712.5L600.8,713.0L601.8,713.5L602.8,714.1L603.7,714.7L604.7,714.9L605.5,714.9L606.4,714.6L607.1,714.1L607.9,713.3L608.6,712.0L609.4,710.5L609.7,709.8L610.1,709.0L610.4,708.1L610.8,707.2L611.1,706.1L611.5,705.0L611.9,703.9L612.2,702.7L612.6,701.6L612.9,700.6L613.3,699.6L613.6,698.6L613.9,697.8L614.2,697.0L614.7,695.6L615.2,694.5L615.6,693.5L616.0,692.6L616.4,691.9L616.8,691.1L617.1,690.5L618.0,689.4L619.0,689.7L619.5,690.3L620.0,691.0L620.6,692.0L621.2,693.2L621.9,695.0L622.1,695.7L622.4,696.6L622.6,697.5L622.8,698.5L623.1,699.5L623.3,700.5L623.6,701.7L623.9,702.8L624.1,704.0L624.4,705.2L624.7,706.3L624.9,707.5L625.2,708.5L625.5,709.5L625.8,710.5L626.1,711.6L626.4,712.6L626.8,713.7L627.1,714.7L627.4,715.8L627.7,716.9L628.1,717.9L628.4,718.8L628.8,719.8L629.1,720.7L629.5,721.6L629.9,722.4L630.2,723.3L630.6,724.1L631.3,725.3L632.0,726.3L632.7,727.1L633.5,728.0L634.3,728.8L635.0,729.6L635.7,730.1L636.4,730.7L637.4,731.3L638.4,731.8L639.3,732.1L640.3,732.2L641.2,732.3L642.3,732.2L643.4,731.8L644.6,731.3L646.0,731.2L647.0,731.2L648.0,731.4L649.2,731.5L650.4,731.6L651.6,731.7L652.7,731.8L653.7,731.7L654.8,731.4L655.8,730.9L656.8,730.3L657.7,729.7L658.6,729.1L659.5,728.8L660.7,728.3L661.8,727.8L663.0,727.6L664.3,727.8L665.1,728.1L666.0,728.6L666.9,729.1L667.9,729.8L668.9,730.5L670.0,731.2L671.1,731.8L671.9,732.1L672.8,732.5L673.7,732.9L674.7,733.2L675.7,733.5L676.7,733.8L677.7,734.2L678.7,734.5L679.7,734.9L680.7,735.2L681.8,735.5L682.9,735.8L684.1,736.1L685.4,736.4L686.6,736.6L687.8,736.8L688.9,737.0L689.8,737.2L690.7,737.4L691.3,737.5"/>
<path stroke="#bb0000" d="M62.3,632.0L116.9,632.0L117.4,632.4L118.0,632.9L118.8,633.5L119.6,634.2L120.6,634.9L121.6,635.6L122.6,636.3L123.6,636.9L124.4,637.3L125.3,637.7L126.2,638.1L127.2,638.5L128.2,638.8L129.1,639.2L130.2,639.5L131.2,639.9L132.2,640.3L133.3,640.7L134.2,641.1L135.1,641.5L136.1,641.9L137.1,642.3L138.1,642.8L139.1,643.2L140.1,643.6L141.1,644.1L142.1,644.5L143.0,644.9L143.9,645.2L144.8,645.5L146.0,645.9L147.3,646.3L148.4,646.7L149.6,647.0L150.6,647.2L151.7,647.4L152.6,647.5L153.5,647.5L154.7,647.3L155.7,646.9L156.6,646.3L157.4,645.6L158.3,644.6L158.8,643.9L159.4,643.1L159.9,642.2L160.5,641.2L161.0,640.2L161.5,639.3L162.1,638.4L162.6,637.6L163.1,636.9L164.2,635.8L165.2,635.0L166.3,634.5L167.4,634.4L168.2,634.5L169.0,634.8L169.8,635.2L170.7,635.8L171.7,636.6L172.8,637.8L173.3,638.4L173.8,639.1L174.4,639.8L174.9,640.7L175.5,641.5L176.1,642.5L176.8,643.4L177.4,644.4L178.0,645.3L178.6,646.3L179.2,647.2L179.8,648.1L180.4,648.9L180.9,649.7L181.4,650.4L182.3,651.5L183.0,652.6L183.8,653.5L184.5,654.4L185.1,655.1L185.8,655.8L186.5,656.5L187.2,657.1L188.1,657.9L189.0,658.6L189.9,659.2L190.9,659.7L191.9,660.0L193.0,660.0L193.9,659.8L194.8,659.5L195.8,659.0L196.8,658.5L197.9,657.9L198.9,657.2L199.9,656.7L200.8,656.2L201.7,655.8L203.0,655.3L204.2,654.9L205.3,654.6L206.3,654.5L207.5,654.6L208.4,654.9L209.4,655.3L210.4,655.8L211.3,656.4L212.3,657.1L213.3,657.8L214.2,658.5L215.0,659.1L215.7,659.8L216.4,660.5L217.0,661.2L217.7,661.9L218.4,662.6L219.2,663.4L220.0,664.1L220.8,664.8L221.6,665.5L222.5,666.2L223.4,666.9L224.3,667.6L225.2,668.3L226.1,668.9L226.9,669.5L227.7,669.9L229.0,670.5L230.2,671.0L231.3,671.2L232.4,671.3L233.5,671.2L234.5,671.0L235.4,670.7L236.4,670.4L237.4,669.8L238.3,669.0L239.3,668.0L239.8,667.4L240.3,666.6L240.8,665.8L241.2,665.0L241.7,664.0L242.2,663.1L242.7,662.1L243.2,661.1L243.7,660.1L244.1,659.1L244.6,658.2L245.1,657.3L245.6,656.3L246.1,655.3L246.7,654.3L247.2,653.3L247.7,652.3L248.2,651.3L248.7,650.4L249.2,649.5L249.8,648.6L250.3,647.9L250.8,647.2L251.7,646.2L252.5,645.3L253.3,644.6L254.2,644.1L255.3,643.8L256.6,643.5L257.4,643.4L258.4,643.4L259.3,643.5L260.4,643.7L261.5,643.8L262.6,644.0L263.7,644.2L264.9,644.4L266.0,644.6L267.1,644.7L268.2,644.8L269.2,644.8L270.3,644.8L271.3,644.8L272.3,644.8L273.4,644.8L274.4,644.7L275.4,644.7L276.5,644.7L277.6,644.7L278.7,644.7L279.8,644.8L280.8,644.9L281.8,645.0L282.8,645.2L283.8,645.3L284.9,645.5L285.9,645.7L287.0,645.9L288.0,646.1L289.1,646.3L290.2,646.5L291.2,646.7L292.3,646.9L293.3,647.1L294.3,647.3L295.4,647.4L296.5,647.6L297.6,647.8L298.7,647.9L299.8,648.1L300.9,648.2L302.0,648.4L303.0,648.6L304.0,649.0L304.9,649.1L305.9,649.3L306.7,649.5L307.8,650.0L308.8,650.4L309.6,650.9L310.5,651.1L311.2,651.6L312.0,652.1L312.8,652.8L313.6,653.6L314.5,654.6L315.1,655.3L315.7,656.0L316.3,656.6L316.9,657.3L317.5,657.8L318.1,658.7L318.7,659.5L319.4,660.2L320.0,661.0L320.7,661.9L321.3,663.2L322.0,664.2L322.7,665.2L323.4,666.1L324.1,667.2L324.6,668.2L325.2,669.1L325.7,669.6L326.3,670.1L326.8,670.9L327.4,671.7L327.9,672.4L328.5,673.1L329.1,674.0L329.7,675.1L330.2,676.1L330.8,676.8L331.4,677.5L332.0,678.4L332.6,679.2L333.2,680.0L333.8,680.8L334.5,681.7L335.1,682.6L335.7,683.3L336.3,684.2L336.9,685.0L337.5,686.0L338.2,686.9L338.8,687.4L339.5,687.9L340.1,688.7L340.8,689.6L341.5,690.0L342.1,690.4L342.8,691.4L343.5,692.9L344.1,694.3L344.8,695.7L345.4,696.2L346.1,696.4L346.7,696.6L347.4,697.5L348.0,698.4L348.6,699.5L349.2,700.3L350.0,701.2L350.8,702.0L351.7,702.7L352.5,702.8L353.2,703.5L354.0,704.4L354.8,705.1L355.6,705.8L356.3,706.6L357.1,707.5L357.8,708.2L358.5,709.2L359.3,709.6L360.0,709.9L360.7,710.4L361.7,711.3L362.7,712.0L363.7,712.6L364.8,713.4L365.8,714.1L366.7,714.1L367.7,714.3L368.5,714.6L369.3,715.0L369.9,715.5L370.4,716.1"/>
<path stroke="#bb0000" d="M382.3,716.3L382.6,716.8L382.9,717.5L383.3,718.2L383.7,719.2L384.1,720.3L384.6,721.4L385.1,722.5L385.7,723.7L386.2,724.9L386.7,726.1L387.2,727.3L387.7,728.1L388.2,729.0L388.7,729.7L389.2,730.6L389.7,731.6L390.2,732.5L390.7,733.4L391.2,734.2L391.8,735.1L392.3,735.9L392.9,736.9L393.5,737.8L394.1,738.6L394.7,739.0L395.2,739.7L395.9,740.8L396.5,741.8L397.1,742.5L397.8,742.9L398.4,743.4L399.1,744.4L399.8,745.2L400.5,746.1L401.2,746.9L401.8,747.8L402.5,748.3L403.1,749.0L403.7,750.0L404.4,750.9L405.1,751.6L405.8,752.3L406.4,753.2L407.1,753.9L407.9,754.8L408.6,755.7L409.3,756.3L410.0,756.9L410.8,757.6L411.6,758.3L412.5,758.9L413.3,759.5L414.2,760.0L415.1,760.6L416.0,761.3L416.9,761.9L417.8,762.3L418.8,762.8L419.7,763.3L420.6,763.7L421.5,764.1L422.4,764.6L423.4,765.1L424.3,765.5L425.3,766.0L426.3,766.5L427.2,766.9L428.2,767.3L429.2,767.7L430.1,768.0L431.1,768.3L432.1,768.5L433.0,768.9L434.0,769.1L435.1,769.5L436.1,769.7L437.2,769.9L438.3,770.1L439.4,770.3L440.5,770.5L441.5,770.6L442.6,770.7L443.6,770.8L444.6,771.0L445.5,771.2L446.7,771.3L447.9,771.2L449.1,771.2L450.1,771.3L451.2,771.5L452.2,771.5L453.2,771.7L454.2,772.0L455.1,772.5L456.0,773.0L456.8,773.6L457.5,774.2L458.3,774.9L459.1,775.5L460.0,776.2L461.0,776.8L461.8,777.3L462.5,778.0L463.4,778.6L464.2,779.1L465.1,779.6L465.9,780.1L466.8,780.7L467.8,781.2L468.7,781.7L469.6,782.1L470.6,782.6L471.5,783.1L472.4,783.6L473.3,783.9L474.2,784.3L475.2,784.6L476.2,784.9L477.1,785.1L478.1,785.5L479.1,785.8L480.1,786.1L481.2,786.3L482.2,786.4L483.2,786.6L484.2,786.7L485.1,786.8L486.2,786.9L487.2,786.9L488.2,786.9L489.2,787.0L490.3,787.1L491.3,787.0L492.4,787.0L493.5,787.0L494.6,787.1L495.7,787.2L496.7,787.2L497.7,787.3L498.7,787.3L499.7,787.4L500.7,787.5L501.7,787.5L502.8,787.5L503.8,787.6L504.8,787.7L505.9,787.8L506.9,787.8L508.0,787.8L509.0,787.8L510.1,787.9L511.1,787.9L512.1,787.9L513.2,787.9L514.2,787.8L515.3,787.8L516.3,787.8L517.4,787.8L518.4,787.8L519.4,787.6L520.5,787.5L521.5,787.5L522.5,787.4L523.5,787.3L524.5,787.3L525.5,787.2L526.5,787.1L527.6,787.0L528.7,787.0L529.8,786.8L530.9,786.7L532.0,786.6L533.1,786.6L534.1,786.4L535.2,786.2L536.2,786.1L537.2,785.9L538.2,785.6L539.1,785.4L540.0,785.2L541.1,784.8L542.2,784.4L543.2,784.0L544.1,783.6L545.0,783.2L545.9,782.7L546.8,782.2L547.7,781.7L548.7,781.2L549.6,780.7L550.5,780.3L551.4,779.7L552.3,779.2L553.2,778.6L554.1,778.0L555.0,777.4L555.9,776.9L556.8,776.4L557.7,775.9L558.5,775.3L559.3,774.8L560.4,774.3L561.4,773.9L562.4,773.5L563.3,773.1L564.3,772.7L565.2,772.4L566.1,772.0L567.0,771.7L568.2,771.3L569.3,770.9L570.4,770.6L571.5,770.3L572.6,770.1L573.7,770.1L574.7,770.2L575.6,770.4L576.6,770.6L577.5,771.0L578.5,771.4L579.5,771.7L580.5,772.0L581.4,772.3L582.4,772.6L583.3,773.0L584.3,773.4L585.3,773.8L586.3,774.2L587.2,774.4L588.2,774.5L589.3,774.5L590.5,774.5L591.6,774.5L592.7,774.4L593.8,774.2L594.9,774.3L595.9,774.5L597.0,774.9L598.0,775.4L599.0,776.1L599.9,776.7L600.8,777.3L601.7,777.8L603.0,778.5L604.2,779.1L605.3,779.3L606.5,779.2L607.3,779.0L608.1,778.5L608.9,777.8L609.7,777.1L610.5,776.1L611.3,774.9L611.7,774.2L612.1,773.4L612.5,772.5L613.0,771.4L613.4,770.4L613.8,769.4L614.2,768.4L614.6,767.4L615.0,766.3L615.4,765.2L615.8,764.2L616.1,763.4L616.6,762.2L617.0,761.1L617.5,759.9L617.9,758.8L618.3,757.8L618.7,757.0L619.0,756.3L619.4,755.7L620.7,754.1L621.9,754.1L622.6,754.4L623.3,754.9L624.0,755.9L624.8,757.6L625.1,758.3L625.3,758.9L625.6,759.8L625.9,760.7L626.2,761.7L626.5,762.7L626.8,763.7L627.1,764.8L627.4,765.9L627.7,767.0L628.0,768.1L628.4,769.1L628.7,770.1L629.0,771.0L629.3,772.0L629.7,773.1L630.0,774.2L630.3,775.1L630.7,776.1L631.0,777.1L631.4,778.1L631.7,779.1L632.1,780.1L632.5,781.1L632.8,782.0L633.2,782.7L633.5,783.5L634.0,784.7L634.5,785.8L635.1,786.8L635.6,787.7L636.1,788.5L636.6,789.3L637.2,790.1L637.7,790.7L638.3,791.2L639.2,792.1L640.0,792.8L640.9,793.4L641.8,793.8L642.9,794.2L644.1,794.6L645.0,794.8L646.1,794.9L647.2,795.2L648.3,795.4L649.5,795.6L650.6,795.6L651.7,795.6L652.8,795.5L653.7,795.5L654.9,795.5L655.9,795.2L656.9,794.8L657.7,794.3L658.6,793.9L659.5,793.6L660.6,793.2L661.7,792.9L662.7,792.5L663.8,792.3L664.9,792.3L665.8,792.5L666.8,792.9L667.7,793.5L668.8,794.0L669.9,794.6L671.1,795.2L671.9,795.5L672.8,795.9L673.7,796.3L674.6,796.7L675.6,797.1L676.6,797.5L677.6,797.9L678.7,798.2L679.7,798.6L680.7,799.0L681.8,799.3L682.9,799.6L684.1,799.9L685.4,800.2L686.6,800.4L687.8,800.7L688.9,800.9L689.8,801.1L690.7,801.3L691.3,801.5"/>
<path stroke="#e20000" d="M62.3,693.0L129.4,693.0L129.9,693.3L130.5,693.7L131.3,694.2L132.1,694.7L133.0,695.3L134.0,695.9L135.0,696.5L136.0,697.1L137.0,697.7L138.0,698.3L139.0,698.8L139.9,699.3L140.8,699.7L141.8,700.2L142.8,700.7L143.8,701.1L144.8,701.6L145.8,702.0L146.8,702.5L147.8,702.9L148.8,703.3L149.7,703.6L150.6,704.0L151.7,704.4L152.7,704.8L153.7,705.2L154.8,705.5L155.8,705.9L156.7,706.2L157.7,706.4L158.6,706.6L159.4,706.8L160.2,706.9L161.6,706.9L162.8,706.8L163.9,706.5L164.9,706.1L166.0,705.5L166.8,705.0L167.6,704.4L168.5,703.6L169.3,702.9L170.1,702.1L171.0,701.4L171.8,700.7L172.7,700.0L173.5,699.2L174.4,698.5L175.3,697.7L176.2,697.1L177.1,696.7L178.0,696.5L178.9,696.5L179.7,696.7L180.6,697.0L181.4,697.4L182.3,698.0L183.3,698.8L184.3,699.8L184.8,700.4L185.4,701.0L186.0,701.8L186.6,702.6L187.3,703.5L187.9,704.4L188.6,705.3L189.2,706.2L189.9,707.1L190.5,708.1L191.2,708.9L191.8,709.8L192.4,710.6L193.0,711.3L193.8,712.3L194.7,713.2L195.5,714.1L196.3,715.0L197.1,715.8L197.9,716.6L198.6,717.3L199.4,717.9L200.1,718.5L200.7,719.0L202.1,719.8L203.2,720.1L204.2,720.2L205.5,720.0L206.4,719.8L207.3,719.5L208.2,719.1L209.2,718.6L210.2,718.2L211.3,717.8L212.3,717.5L213.4,717.2L214.4,717.0L215.5,716.7L216.7,716.5L217.8,716.4L218.9,716.5L220.0,716.7L220.8,717.0L221.7,717.4L222.5,717.9L223.3,718.4L224.1,719.0L225.0,719.7L225.9,720.4L226.8,721.2L227.7,721.9L228.4,722.5L229.2,723.2L230.0,723.9L230.9,724.7L231.7,725.5L232.6,726.3L233.4,727.0L234.2,727.8L235.1,728.5L235.8,729.2L236.6,729.7L237.3,730.2L238.4,730.8L239.5,731.3L240.5,731.7L241.5,731.9L242.4,732.1L243.3,732.1L244.1,732.1L245.2,732.0L246.1,731.8L247.0,731.3L247.9,730.6L248.9,729.6L249.4,729.0L249.9,728.3L250.4,727.5L250.9,726.7L251.4,725.8L251.9,724.8L252.5,723.9L253.0,722.9L253.6,721.9L254.1,720.9L254.7,720.0L255.2,719.1L255.8,718.2L256.3,717.3L256.9,716.3L257.4,715.3L258.0,714.3L258.6,713.4L259.1,712.4L259.7,711.6L260.3,710.8L260.8,710.0L261.4,709.4L262.3,708.5L263.2,707.8L264.1,707.2L264.9,706.8L265.9,706.5L267.0,706.2L268.2,705.9L269.1,705.7L270.0,705.6L271.0,705.5L272.0,705.5L273.0,705.4L274.1,705.4L275.2,705.4L276.4,705.4L277.5,705.4L278.7,705.5L279.8,705.5L280.8,705.5L281.8,705.6L282.8,705.7L283.8,705.8L284.9,705.9L285.9,706.0L287.0,706.1L288.0,706.2L289.1,706.4L290.2,706.5L291.2,706.6L292.3,706.8L293.3,706.9L294.3,707.0L295.4,707.1L296.4,707.3L297.5,707.4L298.5,707.5L299.6,707.7L300.6,707.8L301.7,708.0L302.7,708.2L303.7,708.3L304.7,708.4L305.7,708.5L306.7,708.7L307.7,709.0L308.8,709.3L309.8,709.5L310.8,709.8L311.9,710.0L312.9,710.4L313.8,710.9L314.8,711.5L315.7,711.7L316.6,711.8L317.5,712.0L318.3,712.3L319.3,712.9L320.2,713.5L321.1,714.0L321.9,714.5L322.7,715.2L323.4,715.9L324.2,717.0L325.1,717.8L326.0,718.5L326.6,719.0L327.2,719.5L327.8,719.9L328.4,720.5L329.0,721.6L329.6,722.8L330.3,724.0L330.9,724.9L331.6,725.4L332.3,726.0L332.9,726.8L333.6,728.0L334.3,729.5L335.0,730.6L335.7,731.5L336.3,732.0L336.8,732.4L337.4,732.6L338.0,733.4L338.6,734.3L339.2,735.4L339.8,736.1L340.4,736.8L341.0,737.2L341.6,738.5L342.3,739.5L342.9,740.5L343.5,740.7L344.1,741.6L344.7,742.3L345.4,743.1L346.0,744.0L346.6,745.0L347.2,745.8L347.9,746.6L348.6,747.3L349.2,748.2L349.9,749.1L350.6,750.2L351.3,751.1L352.0,751.8L352.7,752.4L353.3,753.2L354.0,754.5L354.7,755.1L355.4,755.7L356.1,756.6L356.8,757.6L357.4,758.3L358.1,759.1L358.8,759.6L359.6,760.4L360.4,761.1L361.3,761.8L362.2,762.7L363.1,764.1L364.0,765.2L364.9,765.6L365.8,766.1L366.6,766.6L367.4,767.6L368.1,768.4L368.8,769.1L369.4,769.0L370.0,768.9L370.4,769.2"/>
<path stroke="#e20000" d="M382.3,770.0L382.4,770.5L382.6,771.4L382.8,772.3L383.0,773.5L383.2,774.7L383.4,775.9L383.7,777.3L383.9,778.6L384.2,779.8L384.5,781.1L384.8,782.1L385.1,782.9L385.4,783.7L385.7,784.8L386.0,785.9L386.4,786.8L386.7,787.8L387.1,788.9L387.5,789.9L387.9,790.9L388.3,791.7L388.7,792.6L389.3,793.6L390.0,794.2L390.8,794.9L391.5,795.4L392.3,796.1L393.1,796.4L393.8,796.9L394.5,797.6L395.5,798.4L396.4,798.8L397.4,799.5L398.3,800.2L399.3,800.9L399.8,801.3L400.4,802.1L400.9,802.9L401.5,803.7L402.0,804.5L402.6,805.3L403.2,806.3L403.8,807.5L404.4,808.7L405.1,809.5L405.6,810.2L406.2,811.1L406.7,812.0L407.3,812.7L407.8,813.6L408.4,814.5L409.0,815.3L409.6,816.1L410.2,817.1L410.9,818.0L411.5,818.6L412.1,819.3L412.8,820.1L413.5,820.9L414.3,821.7L415.1,822.5L415.9,823.4L416.7,824.1L417.5,824.9L418.3,825.6L419.1,826.3L420.0,827.0L420.8,827.7L421.6,828.3L422.4,829.0L423.4,829.6L424.3,830.3L425.3,830.9L426.2,831.5L427.2,832.0L428.2,832.5L429.1,832.9L430.1,833.3L431.0,833.7L432.0,834.1L433.1,834.4L434.1,834.6L435.2,834.8L436.2,834.9L437.3,835.0L438.3,835.1L439.4,835.1L440.5,835.2L441.7,835.3L442.7,835.4L443.8,835.5L444.9,835.5L446.0,835.4L447.2,835.5L448.3,835.4L449.4,835.5L450.5,835.4L451.5,835.6L452.5,835.6L453.3,835.7L454.5,835.9L455.5,836.2L456.3,836.5L457.0,836.9L457.9,837.5L459.0,838.1L459.7,838.4L460.5,838.9L461.3,839.5L462.2,840.2L463.0,840.7L463.9,841.3L464.9,841.8L465.8,842.5L466.8,843.2L467.7,843.7L468.7,844.3L469.6,844.8L470.5,845.2L471.4,845.6L472.3,846.1L473.2,846.6L474.1,847.1L475.0,847.5L476.0,847.9L477.0,848.3L478.0,848.6L479.1,848.9L480.2,849.2L481.1,849.4L482.1,849.6L483.0,849.8L484.0,850.1L485.1,850.2L486.1,850.4L487.2,850.6L488.2,850.7L489.3,850.8L490.4,850.9L491.5,851.0L492.5,851.1L493.6,851.2L494.7,851.3L495.7,851.5L496.7,851.7L497.8,851.8L498.8,851.9L499.8,851.9L500.8,852.0L501.9,852.1L502.9,852.2L503.9,852.2L504.9,852.3L506.0,852.3L507.0,852.4L508.0,852.5L509.0,852.5L510.1,852.6L511.1,852.5L512.1,852.6L513.2,852.6L514.2,852.5L515.3,852.5L516.3,852.5L517.4,852.5L518.4,852.5L519.4,852.4L520.5,852.4L521.5,852.3L522.5,852.3L523.5,852.2L524.5,852.2L525.5,852.1L526.5,852.0L527.6,851.8L528.7,851.7L529.8,851.6L530.9,851.5L532.0,851.3L533.1,851.1L534.1,851.0L535.2,850.7L536.2,850.5L537.2,850.3L538.2,850.1L539.1,849.8L540.0,849.6L541.2,849.4L542.4,849.3L543.5,849.1L544.5,848.9L545.5,848.5L546.5,848.3L547.5,848.0L548.6,847.7L549.6,847.3L550.5,846.9L551.4,846.4L552.2,846.0L553.1,845.4L554.0,844.8L554.9,844.1L555.8,843.5L556.7,842.9L557.5,842.5L558.4,841.9L559.3,841.4L560.3,840.8L561.2,840.3L562.2,839.8L563.1,839.2L564.1,838.7L565.1,838.2L566.0,837.8L567.0,837.4L567.9,837.0L568.9,836.5L570.0,836.1L571.1,835.8L572.1,835.6L573.2,835.3L574.3,835.1L575.4,834.9L576.4,834.7L577.5,834.7L578.6,834.8L579.7,834.9L580.8,834.9L581.9,835.0L583.0,835.3L584.1,835.7L585.1,836.0L586.2,836.2L587.2,836.4L588.2,836.6L589.4,836.8L590.6,836.9L591.7,836.9L592.8,837.1L593.9,837.2L594.9,837.4L595.9,837.6L597.0,838.0L598.0,838.4L598.9,839.0L599.8,839.5L600.8,840.0L601.7,840.5L602.7,841.0L603.7,841.5L604.7,842.1L605.6,842.5L606.6,842.8L607.5,842.7L608.4,842.5L609.2,842.1L610.0,841.6L610.7,840.8L611.5,839.8L612.3,838.6L612.7,837.9L613.1,837.1L613.5,836.1L614.0,835.2L614.4,834.1L614.8,833.0L615.2,831.9L615.6,830.8L616.0,829.8L616.4,828.8L616.8,827.8L617.1,827.0L617.6,825.7L618.1,824.5L618.5,823.3L618.9,822.4L619.3,821.4L619.6,820.6L620.0,819.8L621.2,818.3L622.3,818.2L623.1,818.5L623.9,819.3L624.8,821.1L625.1,821.8L625.3,822.6L625.6,823.5L625.9,824.3L626.2,825.2L626.5,826.3L626.8,827.3L627.1,828.4L627.4,829.4L627.7,830.5L628.0,831.6L628.4,832.7L628.7,833.8L629.0,834.8L629.3,835.7L629.7,836.6L630.0,837.7L630.3,838.8L630.7,839.8L631.0,840.8L631.4,841.8L631.7,842.8L632.1,843.8L632.5,844.8L632.8,845.7L633.2,846.5L633.5,847.2L634.1,848.4L634.7,849.5L635.3,850.6L635.8,851.5L636.4,852.2L637.0,853.0L637.7,853.9L638.3,854.6L639.2,855.3L640.0,856.0L640.9,856.6L641.8,857.0L642.9,857.4L644.1,857.8L645.0,858.1L646.0,858.3L647.1,858.5L648.2,858.7L649.4,859.0L650.5,859.1L651.6,859.3L652.7,859.3L653.7,859.3L654.9,859.1L656.1,858.9L657.2,858.6L658.3,858.2L659.3,857.8L660.4,857.5L661.4,857.3L662.6,857.1L663.7,857.0L664.9,856.8L666.0,856.8L667.1,856.8L668.2,856.9L669.2,857.1L670.1,857.5L671.0,858.0L672.0,858.4L672.9,858.9L673.9,859.3L674.9,859.7L675.8,860.0L676.8,860.3L677.7,860.8L678.7,861.1L679.7,861.4L680.7,861.7L681.7,862.1L682.7,862.4L683.8,862.7L685.0,863.0L686.2,863.3L687.5,863.6L688.7,864.0L689.7,864.2L690.6,864.4L691.3,864.6"/>
<path stroke="#fc0606" d="M62.3,755.1L141.0,755.1L141.5,755.4L142.1,755.8L142.9,756.2L143.7,756.7L144.6,757.2L145.6,757.8L146.6,758.4L147.6,758.9L148.6,759.5L149.6,760.0L150.6,760.5L151.5,760.9L152.5,761.4L153.4,761.8L154.4,762.3L155.4,762.7L156.5,763.1L157.5,763.6L158.5,764.0L159.5,764.3L160.4,764.7L161.3,765.0L162.2,765.3L163.4,765.7L164.6,766.0L165.7,766.3L166.8,766.5L167.8,766.7L168.8,766.8L169.8,766.8L170.8,766.8L171.9,766.7L172.9,766.4L173.9,766.1L174.9,765.7L175.9,765.3L176.7,764.8L177.6,764.3L178.5,763.6L179.4,762.8L180.2,761.9L180.9,761.0L181.6,760.2L182.4,759.5L183.5,758.7L184.5,758.1L185.6,757.7L186.8,757.6L187.7,757.8L188.7,758.1L189.7,758.5L190.8,759.1L191.9,759.7L193.0,760.5L193.7,761.0L194.4,761.5L195.2,762.1L196.0,762.8L196.8,763.4L197.5,764.1L198.3,764.8L199.1,765.6L199.9,766.4L200.7,767.2L201.3,767.9L202.0,768.7L202.7,769.6L203.3,770.4L204.0,771.3L204.7,772.3L205.3,773.2L206.0,774.0L206.6,774.8L207.2,775.6L207.8,776.3L208.4,776.9L209.5,777.9L210.5,778.7L211.4,779.3L212.3,779.8L213.3,780.1L214.2,780.3L215.2,780.3L216.1,780.1L217.1,779.7L218.1,779.2L219.0,778.8L220.0,778.5L221.1,778.2L222.2,777.8L223.3,777.5L224.5,777.4L225.8,777.5L226.7,777.7L227.5,778.1L228.5,778.5L229.4,779.0L230.4,779.6L231.4,780.2L232.4,780.9L233.5,781.6L234.3,782.1L235.1,782.8L236.0,783.4L236.9,784.1L237.8,784.8L238.7,785.5L239.6,786.2L240.5,786.9L241.4,787.6L242.3,788.2L243.1,788.7L244.1,789.3L245.1,789.9L246.2,790.4L247.2,790.9L248.2,791.3L249.1,791.7L250.1,792.0L251.0,792.3L251.8,792.4L252.9,792.5L253.9,792.4L254.9,792.2L255.8,791.8L256.7,791.3L257.6,790.5L258.2,789.9L258.7,789.3L259.3,788.5L259.9,787.7L260.4,786.9L261.0,786.0L261.6,785.0L262.2,784.1L262.8,783.1L263.4,782.2L263.9,781.4L264.5,780.5L265.0,779.6L265.5,778.7L266.1,777.8L266.6,776.9L267.2,775.9L267.8,775.0L268.3,774.2L268.9,773.4L269.5,772.6L270.1,772.0L271.0,771.2L271.9,770.4L272.8,769.8L273.8,769.3L274.7,768.8L275.7,768.4L276.7,768.0L277.8,767.7L278.8,767.4L279.7,767.2L280.7,767.0L281.8,766.8L282.8,766.7L283.9,766.6L285.1,766.6L286.2,766.5L287.5,766.5L288.4,766.5L289.3,766.5L290.3,766.6L291.3,766.6L292.3,766.7L293.4,766.8L294.4,766.9L295.5,767.0L296.6,767.1L297.7,767.2L298.8,767.3L299.9,767.4L301.0,767.5L302.0,767.5L303.0,767.7L304.0,767.9L305.1,768.0L306.2,768.2L307.3,768.2L308.3,768.2L309.4,768.2L310.5,768.4L311.6,768.4L312.6,768.5L313.6,768.6L314.6,768.8L315.5,768.9L316.4,769.2L317.6,769.2L318.6,769.3L319.7,769.6L320.7,770.1L321.6,770.5L322.6,770.6L323.5,770.8L324.4,771.1L325.3,771.5L326.1,772.0L327.0,772.5L327.9,772.9L328.8,773.1L329.7,773.2L330.6,773.7L331.4,774.8L332.2,775.5L333.1,776.2L333.9,777.0L334.8,777.7L335.7,778.4L336.3,778.8L336.9,779.9L337.4,781.0L338.0,782.0L338.6,782.8L339.2,783.2L339.8,784.1L340.4,784.5L341.1,785.1L341.7,785.8L342.3,787.3L342.9,788.2L343.5,789.0L344.1,790.1L344.7,791.8L345.3,792.9L345.9,793.6L346.6,793.8L347.2,794.3L347.9,794.8L348.5,795.7L349.1,796.7L349.8,797.7L350.4,798.7L351.1,799.3L351.7,800.3L352.3,801.2L353.0,802.1L353.6,802.9L354.3,803.9L354.9,805.0L355.6,805.6L356.3,805.7L357.0,806.1L357.8,807.1L358.5,808.4L359.3,809.0L360.0,809.7L360.7,810.7L361.4,812.0L362.1,812.5L362.8,812.6L363.4,813.0L364.0,814.1L364.6,815.0L365.6,816.1L366.5,816.9L367.3,817.9L368.1,818.6L368.8,819.9L369.4,820.7L370.0,821.5L370.4,821.4"/>
<path stroke="#fc0606" d="M382.3,821.3L382.4,821.9L382.5,822.3L382.6,823.3L382.8,824.2L383.0,825.4L383.1,826.4L383.3,827.6L383.5,828.6L383.7,829.9L383.9,831.4L384.1,832.6L384.3,833.8L384.6,834.8L384.8,835.7L385.0,836.4L385.3,837.6L385.5,838.6L385.8,839.7L386.0,840.8L386.3,841.9L386.5,842.9L386.8,843.9L387.1,845.1L387.4,846.0L387.7,846.8L388.0,847.4L388.4,848.4L388.7,849.3L389.2,850.4L389.8,851.3L390.3,852.4L390.9,853.7L391.5,854.7L392.2,855.6L392.8,856.5L393.4,857.4L394.0,858.1L394.5,858.4L395.5,859.1L396.5,860.0L397.5,860.9L398.4,861.1L399.3,861.3L400.3,861.6L401.2,862.1L402.1,862.5L403.1,863.4L403.6,863.8L404.1,864.6L404.6,865.6L405.1,866.5L405.6,867.4L406.2,868.6L406.8,869.9L407.4,871.0L408.0,872.0L408.5,872.8L409.1,873.6L409.6,874.5L410.2,875.4L410.8,876.4L411.4,877.2L412.0,878.1L412.6,879.0L413.3,879.9L414.0,880.7L414.7,881.4L415.5,882.1L416.3,882.8L417.1,883.5L418.0,884.2L418.9,884.9L419.8,885.5L420.7,886.1L421.6,886.7L422.5,887.2L423.4,887.7L424.3,888.2L425.3,888.7L426.2,889.2L427.1,889.5L428.1,889.8L429.0,890.0L430.0,890.3L431.0,890.5L431.9,890.7L433.0,890.9L434.0,891.1L435.0,891.2L436.0,891.4L437.0,891.5L438.0,891.6L439.1,891.6L440.2,891.6L441.2,891.5L442.3,891.6L443.4,891.6L444.4,891.6L445.5,891.7L446.6,891.8L447.7,892.0L448.8,892.1L449.9,892.2L451.0,892.4L452.1,892.6L453.2,892.8L454.2,892.9L455.2,893.1L456.2,893.4L457.1,893.7L458.2,894.0L459.2,894.4L460.1,894.8L461.0,895.4L461.8,896.0L462.7,896.6L463.7,897.2L464.8,897.8L465.6,898.3L466.4,898.7L467.2,899.3L468.1,899.8L469.0,900.4L469.9,901.0L470.8,901.5L471.8,902.0L472.7,902.7L473.7,903.3L474.6,903.8L475.5,904.2L476.4,904.7L477.4,905.1L478.4,905.4L479.4,905.9L480.4,906.2L481.4,906.4L482.4,906.6L483.4,906.9L484.5,907.1L485.6,907.4L486.7,907.6L487.9,907.9L488.8,908.0L489.7,908.2L490.7,908.3L491.6,908.3L492.6,908.4L493.6,908.6L494.6,908.6L495.7,908.6L496.7,908.7L497.8,908.8L498.9,908.9L500.0,908.9L501.1,908.9L502.2,908.9L503.4,909.0L504.3,909.1L505.3,909.3L506.3,909.4L507.4,909.4L508.4,909.5L509.5,909.5L510.6,909.5L511.7,909.6L512.8,909.8L513.8,909.9L514.9,910.0L516.0,910.1L517.1,910.1L518.1,910.2L519.1,910.2L520.0,910.2L521.0,910.3L521.9,910.4L522.7,910.5L524.1,910.5L525.3,910.5L526.6,910.4L527.7,910.3L528.8,910.2L529.8,910.1L530.8,910.1L531.7,909.9L532.6,909.7L533.4,909.6L534.2,909.4L535.5,909.2L536.4,908.8L537.2,908.4L538.0,908.0L538.9,907.5L540.0,907.0L540.8,906.7L541.7,906.4L542.6,906.1L543.6,905.8L544.6,905.6L545.6,905.2L546.6,904.9L547.6,904.5L548.6,904.1L549.6,903.6L550.6,903.2L551.5,902.7L552.5,902.3L553.5,901.8L554.5,901.2L555.4,900.7L556.4,900.2L557.4,899.8L558.3,899.3L559.3,898.8L560.3,898.3L561.3,897.7L562.2,897.2L563.2,896.8L564.2,896.3L565.2,895.8L566.2,895.3L567.1,894.9L568.0,894.4L568.9,894.0L570.0,893.6L571.0,893.2L572.0,892.7L573.0,892.3L573.9,891.9L574.9,891.6L575.7,891.3L576.6,891.1L577.9,890.8L579.0,890.7L580.0,890.6L581.1,890.6L582.4,890.7L583.4,890.8L584.5,891.0L585.6,891.4L586.7,891.6L587.8,891.9L589.0,892.1L590.1,892.4L591.2,892.6L592.3,892.7L593.4,892.8L594.6,892.9L595.7,893.0L596.7,893.1L597.8,893.3L598.8,893.7L599.8,894.0L600.8,894.4L601.8,894.8L602.8,895.2L603.7,895.5L604.6,895.9L605.6,896.3L606.7,896.8L607.7,897.2L608.7,897.7L609.6,898.0L610.4,898.2L611.5,898.3L612.4,898.2L613.3,897.7L614.2,896.9L614.8,896.3L615.3,895.5L615.9,894.7L616.4,893.7L617.0,892.5L617.5,891.3L618.1,890.0L618.4,889.3L618.8,888.4L619.1,887.4L619.4,886.3L619.8,885.2L620.1,884.1L620.4,883.1L620.7,882.1L621.1,881.0L621.4,880.2L621.6,879.3L621.9,878.6L622.6,877.0L623.2,876.0L623.7,875.2L624.2,874.7L625.2,874.0L626.2,874.1L626.8,874.5L627.3,875.0L628.0,876.0L628.7,877.6L628.9,878.3L629.2,879.1L629.5,879.9L629.7,880.7L630.0,881.6L630.3,882.6L630.6,883.7L630.9,884.8L631.2,886.0L631.5,887.1L631.8,888.1L632.2,889.1L632.5,890.1L632.8,891.0L633.1,892.0L633.5,893.0L633.8,894.1L634.1,895.2L634.5,896.2L634.8,897.1L635.2,898.0L635.5,899.1L635.9,900.1L636.2,901.1L636.6,902.1L637.0,903.0L637.3,903.7L637.8,904.8L638.4,905.8L638.9,906.7L639.4,907.6L640.0,908.5L640.5,909.2L641.0,909.9L641.6,910.6L642.2,911.3L643.1,912.2L644.0,913.0L644.9,913.6L645.9,914.2L646.9,914.7L648.0,915.2L649.0,915.5L650.1,915.8L651.3,916.0L652.4,916.2L653.6,916.3L654.7,916.4L655.7,916.5L657.0,916.8L658.1,917.0L659.2,917.1L660.3,917.2L661.4,917.2L662.4,916.9L663.4,916.5L664.4,916.0L665.3,915.5L666.3,915.0L667.2,914.7L668.4,914.5L669.6,914.3L670.8,914.2L672.0,914.2L672.9,914.4L673.8,914.7L674.8,915.1L675.8,915.6L676.8,916.1L677.8,916.6L678.7,917.0L679.7,917.3L680.6,917.6L681.6,918.0L682.6,918.4L683.6,918.7L684.6,919.0L685.8,919.3L687.1,919.8L688.4,920.1L689.6,920.5L690.6,920.8L691.3,921.0"/>
<path stroke="#ff4545" d="M62.3,816.5L149.6,816.5L150.2,816.8L150.9,817.2L151.7,817.6L152.7,818.2L153.7,818.7L154.8,819.3L155.9,819.9L157.0,820.5L158.1,821.1L159.2,821.6L160.2,822.1L161.2,822.6L162.2,823.1L163.2,823.6L164.2,824.1L165.2,824.6L166.2,825.0L167.2,825.5L168.2,825.9L169.1,826.3L170.0,826.6L170.8,826.9L172.2,827.3L173.4,827.5L174.4,827.6L175.5,827.6L176.5,827.6L177.6,827.5L178.7,827.3L179.9,827.1L181.0,826.8L182.1,826.4L183.2,826.0L184.3,825.5L185.3,824.9L186.3,824.3L187.3,823.6L188.3,822.9L189.2,822.2L190.1,821.7L191.1,821.2L192.0,820.8L193.0,820.5L193.9,820.3L194.9,820.3L195.8,820.4L196.7,820.6L197.6,820.9L198.6,821.4L199.6,821.9L200.7,822.7L201.4,823.3L202.1,823.9L202.9,824.7L203.6,825.4L204.4,826.3L205.2,827.1L206.0,828.0L206.8,828.8L207.6,829.6L208.4,830.4L209.2,831.1L210.0,831.9L210.8,832.6L211.7,833.4L212.5,834.1L213.3,834.8L214.1,835.5L214.8,836.1L215.5,836.6L216.1,837.1L217.3,837.9L218.2,838.4L219.1,838.7L220.0,839.0L221.1,839.4L222.2,839.7L223.4,839.9L224.8,840.0L225.8,839.9L227.0,839.6L228.1,839.3L229.3,839.0L230.5,838.8L231.6,838.7L232.7,838.7L233.8,838.8L234.8,839.0L235.9,839.4L237.3,840.0L238.0,840.4L238.8,840.9L239.7,841.5L240.6,842.1L241.6,842.8L242.5,843.4L243.5,844.1L244.4,844.8L245.3,845.5L246.2,846.1L247.0,846.7L248.0,847.4L248.9,848.1L249.8,848.7L250.7,849.4L251.6,850.0L252.4,850.6L253.2,851.2L254.0,851.7L254.7,852.1L255.8,852.7L256.8,853.2L257.6,853.4L258.5,853.6L259.5,853.5L260.4,853.3L261.3,853.1L262.3,852.7L263.3,852.2L264.3,851.5L265.3,850.6L265.9,850.0L266.4,849.3L267.0,848.4L267.6,847.6L268.2,846.6L268.8,845.7L269.4,844.7L270.1,843.7L270.7,842.8L271.3,841.9L272.0,841.0L272.7,840.2L273.4,839.3L274.1,838.4L274.8,837.6L275.5,836.7L276.2,835.9L276.9,835.1L277.7,834.3L278.4,833.6L279.1,832.9L279.8,832.3L280.8,831.6L281.7,830.9L282.7,830.3L283.7,829.8L284.6,829.4L285.6,829.0L286.5,828.7L287.5,828.4L288.6,828.1L289.6,828.0L290.6,827.9L291.6,827.8L292.7,827.8L293.9,827.9L295.2,827.9L296.1,827.9L297.0,828.0L298.0,828.0L299.0,828.1L300.1,828.2L301.1,828.3L302.2,828.4L303.3,828.5L304.4,828.6L305.6,828.7L306.7,828.8L307.7,828.8L308.7,829.0L309.7,829.2L310.8,829.4L311.8,829.5L312.9,829.6L314.0,829.4L315.1,829.7L316.1,829.9L317.2,830.1L318.2,830.0L319.2,830.3L320.2,830.8L321.2,831.2L322.3,831.4L323.3,831.6L324.3,832.0L325.3,832.7L326.2,833.0L327.2,832.9L328.2,832.8L329.1,833.1L330.0,833.4L330.9,833.9L331.8,834.3L332.7,835.1L333.7,835.5L334.6,836.1L335.4,836.5L336.3,837.0L337.1,837.2L338.0,837.6L338.8,837.8L339.7,838.4L340.5,838.7L341.4,839.7L342.1,840.6L342.9,841.8L343.6,842.5L344.4,842.5L345.1,842.5L345.9,842.9L346.6,843.9L347.4,844.4L348.1,845.0L348.9,846.0L349.6,847.1L350.4,848.1L351.1,848.9L351.7,850.1L352.4,851.1L353.0,851.6L353.7,852.0L354.3,852.2L354.9,852.7L355.6,853.7L356.2,855.2L356.9,856.2L357.5,857.0L358.1,857.9L358.8,858.9L359.4,859.4L360.1,860.0L360.7,860.9L361.4,862.2L362.1,862.8L362.8,863.6L363.5,864.5L364.3,866.2L365.0,867.2L365.8,868.1L366.5,868.8L367.2,870.0L367.9,871.0L368.5,871.6L369.1,872.1L369.6,872.4L370.0,872.6L370.4,873.1"/>
<path stroke="#ff4545" d="M382.3,873.5L382.4,874.2L382.4,875.0L382.5,875.8L382.6,876.9L382.7,877.8L382.8,878.8L382.9,879.9L383.0,881.1L383.2,882.0L383.3,883.3L383.4,884.4L383.6,885.8L383.7,887.1L383.9,888.3L384.0,889.3L384.2,890.3L384.4,891.3L384.6,892.3L384.8,893.4L385.0,894.3L385.2,895.2L385.4,896.4L385.7,897.7L385.9,898.8L386.1,899.7L386.4,900.6L386.6,901.6L386.9,902.7L387.2,903.6L387.4,904.5L387.7,905.3L388.1,906.6L388.4,907.8L388.8,908.8L389.2,909.7L389.6,910.6L390.0,911.7L390.4,912.7L390.9,913.8L391.3,914.8L391.7,915.8L392.1,916.6L392.5,917.1L393.2,918.5L393.9,919.5L394.6,920.4L395.3,921.0L396.0,921.8L396.7,922.4L397.3,923.0L398.6,923.4L399.9,923.3L401.2,923.5L402.1,924.0L403.0,924.0L403.9,924.5L404.9,925.3L406.0,926.5L406.5,927.0L407.1,927.8L407.6,928.8L408.2,929.8L408.8,930.8L409.4,931.8L410.0,932.8L410.7,933.8L411.4,934.7L412.1,935.6L412.8,936.4L413.5,937.1L414.2,937.8L415.0,938.6L415.8,939.3L416.6,939.9L417.4,940.6L418.3,941.3L419.1,941.9L419.9,942.5L420.8,943.1L421.6,943.7L422.4,944.2L423.3,944.6L424.3,945.1L425.2,945.6L426.1,946.0L427.0,946.5L427.9,946.9L428.8,947.1L429.8,947.4L430.9,947.6L432.0,947.9L432.9,948.1L433.9,948.3L434.9,948.3L435.9,948.4L437.0,948.6L438.1,948.8L439.2,949.0L440.3,949.1L441.4,949.2L442.4,949.2L443.5,949.4L444.5,949.5L445.5,949.5L446.6,949.7L447.8,949.8L449.0,949.9L450.1,949.9L451.2,949.9L452.3,949.9L453.4,950.0L454.4,950.0L455.4,950.1L456.3,950.2L457.1,950.3L458.6,950.5L459.7,950.7L460.7,950.8L461.7,951.2L462.9,951.7L463.7,952.1L464.4,952.7L465.3,953.4L466.1,954.1L466.9,954.8L467.8,955.5L468.7,956.2L469.7,956.9L470.6,957.6L471.4,958.2L472.2,958.7L473.0,959.3L473.9,959.9L474.7,960.4L475.6,961.0L476.5,961.5L477.4,962.0L478.3,962.5L479.2,963.0L480.2,963.4L481.2,963.8L482.2,964.2L483.2,964.5L484.2,964.7L485.2,965.0L486.3,965.3L487.4,965.6L488.4,965.7L489.5,965.9L490.7,966.1L491.8,966.3L492.8,966.5L493.7,966.5L494.7,966.5L495.7,966.5L496.7,966.6L497.7,966.6L498.7,966.6L499.7,966.6L500.8,966.6L501.9,966.5L503.0,966.6L504.1,966.8L505.3,966.9L506.2,966.8L507.2,966.9L508.2,967.0L509.3,967.1L510.3,967.1L511.4,967.2L512.5,967.3L513.6,967.4L514.7,967.6L515.8,967.7L516.8,967.8L517.9,967.9L518.9,968.0L519.9,968.2L520.9,968.2L521.8,968.2L522.7,968.1L524.0,968.2L525.2,968.2L526.4,968.2L527.6,968.1L528.6,968.1L529.7,968.0L530.7,968.0L531.6,967.9L532.5,967.8L533.4,967.6L534.2,967.5L535.7,967.4L536.7,967.2L537.7,966.9L538.7,966.5L540.0,966.2L540.9,966.2L541.9,966.0L542.9,965.8L544.0,965.6L545.1,965.4L546.3,965.1L547.4,964.8L548.5,964.5L549.6,964.2L550.6,963.8L551.5,963.5L552.5,963.2L553.5,962.8L554.5,962.3L555.4,961.9L556.4,961.4L557.4,960.9L558.3,960.4L559.3,959.9L560.3,959.4L561.2,958.8L562.2,958.3L563.2,957.7L564.2,957.2L565.1,956.8L566.1,956.2L567.0,955.6L568.0,955.2L568.9,954.8L569.9,954.2L570.9,953.7L571.9,953.1L572.9,952.7L573.9,952.1L574.8,951.7L575.8,951.2L576.7,950.9L577.6,950.5L578.7,950.1L579.8,949.8L580.9,949.5L582.0,949.3L583.1,949.1L584.2,949.0L585.3,948.9L586.3,948.9L587.4,948.9L588.5,949.0L589.6,949.0L590.8,949.1L591.9,949.3L593.0,949.4L594.0,949.6L595.2,949.7L596.4,949.7L597.5,949.9L598.7,950.0L599.7,950.2L600.8,950.4L601.7,950.5L602.8,950.8L603.8,951.3L604.7,951.8L605.6,952.4L606.5,952.8L607.5,953.4L608.5,954.1L609.4,954.8L610.4,955.3L611.3,955.7L612.7,955.9L613.9,955.8L615.2,955.1L615.7,954.6L616.3,953.9L616.8,953.1L617.4,952.3L617.9,951.3L618.5,950.1L619.0,948.9L619.3,948.1L619.7,947.3L620.0,946.2L620.3,945.2L620.7,944.1L621.0,943.1L621.3,942.1L621.7,941.1L622.0,940.1L622.3,939.0L622.6,938.1L622.9,937.3L623.5,935.9L624.0,934.7L624.5,933.8L624.9,932.9L625.4,932.2L625.8,931.6L626.8,930.6L627.7,930.6L628.5,931.0L629.3,931.8L630.2,933.5L630.5,934.1L630.7,934.9L631.0,935.8L631.3,936.7L631.6,937.6L631.9,938.6L632.2,939.6L632.5,940.7L632.8,941.8L633.1,943.0L633.5,944.1L633.8,944.9L634.1,945.8L634.4,946.9L634.7,947.9L635.0,949.0L635.3,950.0L635.6,951.0L636.0,952.0L636.3,953.0L636.6,954.0L637.0,955.1L637.3,956.0L637.6,956.9L638.0,957.8L638.3,958.5L638.8,959.8L639.3,960.9L639.9,961.9L640.4,962.9L640.9,963.9L641.4,964.8L642.0,965.7L642.5,966.5L643.1,967.2L643.9,968.2L644.7,969.0L645.5,969.7L646.3,970.4L647.1,971.0L648.0,971.6L648.9,972.0L650.0,972.5L651.1,972.7L652.2,972.9L653.3,973.1L654.5,973.2L655.7,973.4L656.8,973.6L657.9,973.8L659.0,973.9L660.2,974.0L661.3,974.1L662.4,974.1L663.4,974.1L664.5,973.8L665.5,973.5L666.5,973.1L667.5,972.7L668.4,972.3L669.2,971.9L670.6,971.5L671.7,971.1L673.0,971.1L673.9,971.3L674.8,971.7L675.7,972.1L676.7,972.6L677.8,973.1L678.7,973.4L679.6,973.8L680.6,974.3L681.6,974.8L682.6,975.1L683.6,975.5L684.6,975.9L685.8,976.3L687.1,976.6L688.4,977.0L689.6,977.3L690.6,977.6L691.3,977.8"/>
</g>
<g fill="#ff8000" stroke="none">
<polygon points="195.6,820.8 190.1,807.8 197.8,806.6"/>
<polygon points="233.6,837.7 228.7,823.6 235.8,822.3"/>
<polygon points="286.0,829.4 280.3,815.5 287.9,814.4"/>
<polygon points="348.3,844.9 343.0,831.9 350.3,831.3"/>
<polygon points="405.1,925.8 401.2,912.3 408.9,912.3"/>
<polygon points="461.0,951.8 457.1,938.3 464.4,938.3"/>
<polygon points="577.6,950.5 573.7,937.0 581.4,937.0"/>
<polygon points="598.8,949.9 594.9,935.0 602.7,935.0"/>
<polygon points="627.1,930.6 623.3,916.1 631.0,916.1"/>
<polygon points="673.0,969.2 669.2,953.7 676.5,953.7"/>
</g>
<rect x="408.5" y="366.5" width="269" height="76" fill="#fff" stroke="#111" stroke-width="1"/>
<text x="418.5" y="394" font-size="26.6">Tokyo Denpa substrate</text>
<text x="418.5" y="429" font-size="26.6">E</text>
<text x="464" y="429" font-size="26.6">c,</text>
<text x="496" y="429" font-size="26.6">P</text>
<text x="535" y="429" font-size="26.6">c,</text>
<text x="566" y="429" font-size="26.6">k</text>
<text x="609" y="429" font-size="26.6">c</text>
<g stroke="#000" stroke-width="1.3" fill="none">
<path d="M440.6,428.5H456.6M448.6,428.5V415.8"/>
<path d="M585.2,428.5H601.2M593.2,428.5V415.8"/>
<path d="M519.5,410.5V434.5M523.9,410.5V434.5"/>
</g>
<g stroke="#000" stroke-width="2.4" fill="none" stroke-linecap="butt">
<path d="M371.3,349.2H61.7V990.7H371.3"/>
<path d="M383.6,349.2H692.4V990.7H383.6"/>
</g>
<g stroke="#000" stroke-width="2.2" fill="none">
<path d="M354.9,349.2v11.8M354.9,990.7v-11.8"/>
<path d="M322.2,349.2v6.3M322.2,990.7v-6.3"/>
<path d="M289.6,349.2v6.3M289.6,990.7v-6.3"/>
<path d="M256.9,349.2v6.3M256.9,990.7v-6.3"/>
<path d="M224.3,349.2v6.3M224.3,990.7v-6.3"/>
<path d="M191.6,349.2v11.8M191.6,990.7v-11.8"/>
<path d="M159.0,349.2v6.3M159.0,990.7v-6.3"/>
<path d="M126.3,349.2v6.3M126.3,990.7v-6.3"/>
<path d="M93.7,349.2v6.3M93.7,990.7v-6.3"/>
<path d="M407.0,349.2v6.3M407.0,990.7v-6.3"/>
<path d="M433.9,349.2v11.8M433.9,990.7v-6.3"/>
<path d="M460.9,349.2v6.3M460.9,990.7v-6.3"/>
<path d="M487.8,349.2v11.8M487.8,990.7v-11.8"/>
<path d="M514.8,349.2v6.3M514.8,990.7v-6.3"/>
<path d="M541.7,349.2v11.8M541.7,990.7v-6.3"/>
<path d="M568.6,349.2v6.3M568.6,990.7v-6.3"/>
<path d="M595.6,349.2v11.8M595.6,990.7v-11.8"/>
<path d="M622.5,349.2v6.3M622.5,990.7v-6.3"/>
<path d="M649.5,349.2v11.8M649.5,990.7v-6.3"/>
<path d="M676.5,349.2v6.3M676.5,990.7v-6.3"/>
</g>
<g stroke="#000" stroke-width="2.4" fill="none" stroke-linecap="butt">
<path d="M365.6,360.8L377.2,337.6M376.2,360.8L388,337.6"/>
<path d="M365.6,1002.8L377.4,979.1M376.2,1002.8L388.4,979.1"/>
</g>
<text x="191.8" y="1028" font-size="26.8" text-anchor="middle">3.375</text>
<text x="355" y="1028" font-size="26.8" text-anchor="middle">3.380</text>
<text x="489" y="1028" font-size="26.8" text-anchor="middle">3.40</text>
<text x="596" y="1028" font-size="26.8" text-anchor="middle">3.42</text>
<text x="377.5" y="1066" font-size="26.5" text-anchor="middle">Energy (eV)</text>
<text transform="translate(28.3,691.3) rotate(-90)" font-size="27.9" text-anchor="middle">Intensity (arb. units, log scale)</text>
<text x="697.9" y="549.3" font-size="23.5">0.000 GPa</text>
<text x="697.9" y="612.5" font-size="23.5">0.016 GPa</text>
<text x="697.9" y="677.9" font-size="23.5">0.031 GPa</text>
<text x="697.9" y="739.9" font-size="23.5">0.046 GPa</text>
<text x="697.9" y="802.0" font-size="23.5">0.061 GPa</text>
<text x="697.9" y="864.4" font-size="23.5">0.076 GPa</text>
<text x="697.9" y="924.0" font-size="23.5">0.091 GPa</text>
<text x="696.8" y="982.7" font-size="23.5">0.106 GPa</text>
<text x="81" y="328.6" font-size="24.5">I<tspan dy="9" font-size="18.3">1</tspan><tspan dy="-9" font-size="1">&#8203;</tspan></text>
<text x="112" y="328.6" font-size="24.5">I<tspan dy="9" font-size="18.3">0</tspan><tspan dy="-9" font-size="1">&#8203;</tspan></text>
<text x="140" y="328.6" font-size="24.5">I<tspan dy="9" font-size="18.3">0a</tspan><tspan dy="-9" font-size="1">&#8203;</tspan></text>
<text x="174" y="328.6" font-size="24.5">A<tspan dy="9" font-size="18.3">T</tspan><tspan dy="-9" font-size="1">&#8203;</tspan>(Γ<tspan dy="9" font-size="18.3">5</tspan><tspan dy="-9" font-size="1">&#8203;</tspan>)</text>
<text x="251.5" y="328.6" font-size="24.5">A<tspan dy="9" font-size="18.3">L</tspan><tspan dy="-9" font-size="1">&#8203;</tspan>(Γ<tspan dy="9" font-size="18.3">5</tspan><tspan dy="-9" font-size="1">&#8203;</tspan>)</text>
<text x="344" y="328.6" font-size="24.5">B<tspan dy="9" font-size="18.3">T</tspan><tspan dy="-9" font-size="1">&#8203;</tspan>(Γ<tspan dy="9" font-size="18.3">5</tspan><tspan dy="-9" font-size="1">&#8203;</tspan>)</text>
<text x="424" y="328.6" font-size="24.5">B<tspan dy="9" font-size="18.3">L</tspan><tspan dy="-9" font-size="1">&#8203;</tspan>(Γ<tspan dy="9" font-size="18.3">5</tspan><tspan dy="-9" font-size="1">&#8203;</tspan>)</text>
<text x="602.5" y="328.6" font-size="24.5">A<tspan dy="-13.2" font-size="18.5">n=2</tspan><tspan dy="13.2" font-size="1">&#8203;</tspan></text>
<text x="655.5" y="328.6" font-size="24.5">A<tspan dy="-13.2" font-size="18.5">n=3</tspan><tspan dy="13.2" font-size="1">&#8203;</tspan></text>
</svg>
</body></html>
